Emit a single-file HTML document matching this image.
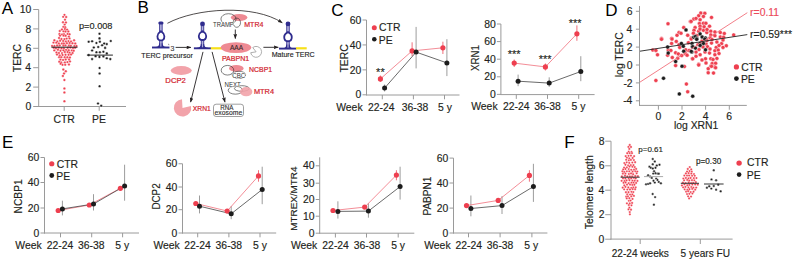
<!DOCTYPE html>
<html><head><meta charset="utf-8"><style>html,body{margin:0;padding:0;background:#fff;}body{width:793px;height:260px;overflow:hidden;}svg{display:block;}</style></head>
<body><svg width="793" height="260" viewBox="0 0 793 260" font-family='"Liberation Sans", sans-serif'>
<rect width="793" height="260" fill="#fff"/>
<text x="1.87" y="13.70" font-size="17" fill="#000"  >A</text>
<text x="137.41" y="13.30" font-size="17" fill="#000"  >B</text>
<text x="331.34" y="15.90" font-size="17" fill="#000"  >C</text>
<text x="605.31" y="15.90" font-size="17" fill="#000"  >D</text>
<text x="2.01" y="148.30" font-size="17" fill="#000"  >E</text>
<text x="564.21" y="148.10" font-size="17" fill="#000"  >F</text>
<line x1="38.70" y1="9.50" x2="38.70" y2="107.00" stroke="#9a9a9a" stroke-width="1" />
<line x1="33.20" y1="106.50" x2="38.70" y2="106.50" stroke="#9a9a9a" stroke-width="1" />
<text x="25.42" y="110.13" font-size="10.4" fill="#231f20" stroke="#231f20" stroke-width="0.15">0</text>
<line x1="33.20" y1="87.10" x2="38.70" y2="87.10" stroke="#9a9a9a" stroke-width="1" />
<text x="25.54" y="90.73" font-size="10.4" fill="#231f20" stroke="#231f20" stroke-width="0.15">2</text>
<line x1="33.20" y1="67.70" x2="38.70" y2="67.70" stroke="#9a9a9a" stroke-width="1" />
<text x="25.32" y="71.33" font-size="10.4" fill="#231f20" stroke="#231f20" stroke-width="0.15">4</text>
<line x1="33.20" y1="48.30" x2="38.70" y2="48.30" stroke="#9a9a9a" stroke-width="1" />
<text x="25.47" y="51.93" font-size="10.4" fill="#231f20" stroke="#231f20" stroke-width="0.15">6</text>
<line x1="33.20" y1="28.90" x2="38.70" y2="28.90" stroke="#9a9a9a" stroke-width="1" />
<text x="25.47" y="32.53" font-size="10.4" fill="#231f20" stroke="#231f20" stroke-width="0.15">8</text>
<line x1="33.20" y1="9.50" x2="38.70" y2="9.50" stroke="#9a9a9a" stroke-width="1" />
<text x="19.64" y="13.13" font-size="10.4" fill="#231f20" stroke="#231f20" stroke-width="0.15">10</text>
<line x1="38.20" y1="106.50" x2="126.00" y2="106.50" stroke="#9a9a9a" stroke-width="1" />
<line x1="64.20" y1="106.50" x2="64.20" y2="110.80" stroke="#9a9a9a" stroke-width="1" />
<line x1="99.20" y1="106.50" x2="99.20" y2="110.80" stroke="#9a9a9a" stroke-width="1" />
<text x="53.49" y="122.70" font-size="10.4" fill="#231f20" stroke="#231f20" stroke-width="0.15">CTR</text>
<text x="92.06" y="122.70" font-size="10.4" fill="#231f20" stroke="#231f20" stroke-width="0.15">PE</text>
<text transform="translate(21.20,72.00) rotate(-90) scale(0.920,1)" x="-0.25" y="0" font-size="11.31" fill="#231f20" stroke="#231f20" stroke-width="0.15">TERC</text>
<text x="79.01" y="28.50" font-size="9.2" fill="#231f20" stroke="#231f20" stroke-width="0.15">p=0.008</text>
<circle cx="64.45" cy="14.84" r="1.2" fill="#ee3f4f" stroke="#fff" stroke-width="0.3"/>
<circle cx="63.18" cy="16.83" r="1.2" fill="#ee3f4f" stroke="#fff" stroke-width="0.3"/>
<circle cx="66.18" cy="17.06" r="1.2" fill="#ee3f4f" stroke="#fff" stroke-width="0.3"/>
<circle cx="64.99" cy="19.66" r="1.2" fill="#ee3f4f" stroke="#fff" stroke-width="0.3"/>
<circle cx="63.00" cy="22.22" r="1.2" fill="#ee3f4f" stroke="#fff" stroke-width="0.3"/>
<circle cx="65.94" cy="22.49" r="1.2" fill="#ee3f4f" stroke="#fff" stroke-width="0.3"/>
<circle cx="64.69" cy="24.61" r="1.2" fill="#ee3f4f" stroke="#fff" stroke-width="0.3"/>
<circle cx="63.33" cy="26.86" r="1.2" fill="#ee3f4f" stroke="#fff" stroke-width="0.3"/>
<circle cx="65.21" cy="27.19" r="1.2" fill="#ee3f4f" stroke="#fff" stroke-width="0.3"/>
<circle cx="61.91" cy="29.55" r="1.2" fill="#ee3f4f" stroke="#fff" stroke-width="0.3"/>
<circle cx="64.91" cy="28.97" r="1.2" fill="#ee3f4f" stroke="#fff" stroke-width="0.3"/>
<circle cx="67.08" cy="29.62" r="1.2" fill="#ee3f4f" stroke="#fff" stroke-width="0.3"/>
<circle cx="59.79" cy="31.01" r="1.2" fill="#ee3f4f" stroke="#fff" stroke-width="0.3"/>
<circle cx="63.58" cy="31.37" r="1.2" fill="#ee3f4f" stroke="#fff" stroke-width="0.3"/>
<circle cx="65.54" cy="31.46" r="1.2" fill="#ee3f4f" stroke="#fff" stroke-width="0.3"/>
<circle cx="68.35" cy="31.55" r="1.2" fill="#ee3f4f" stroke="#fff" stroke-width="0.3"/>
<circle cx="59.39" cy="34.02" r="1.2" fill="#ee3f4f" stroke="#fff" stroke-width="0.3"/>
<circle cx="62.08" cy="34.39" r="1.2" fill="#ee3f4f" stroke="#fff" stroke-width="0.3"/>
<circle cx="64.00" cy="34.23" r="1.2" fill="#ee3f4f" stroke="#fff" stroke-width="0.3"/>
<circle cx="67.64" cy="33.88" r="1.2" fill="#ee3f4f" stroke="#fff" stroke-width="0.3"/>
<circle cx="69.55" cy="34.20" r="1.2" fill="#ee3f4f" stroke="#fff" stroke-width="0.3"/>
<circle cx="60.02" cy="35.63" r="1.2" fill="#ee3f4f" stroke="#fff" stroke-width="0.3"/>
<circle cx="63.61" cy="35.66" r="1.2" fill="#ee3f4f" stroke="#fff" stroke-width="0.3"/>
<circle cx="65.67" cy="35.73" r="1.2" fill="#ee3f4f" stroke="#fff" stroke-width="0.3"/>
<circle cx="68.85" cy="36.60" r="1.2" fill="#ee3f4f" stroke="#fff" stroke-width="0.3"/>
<circle cx="59.04" cy="37.95" r="1.2" fill="#ee3f4f" stroke="#fff" stroke-width="0.3"/>
<circle cx="61.45" cy="38.96" r="1.2" fill="#ee3f4f" stroke="#fff" stroke-width="0.3"/>
<circle cx="64.41" cy="39.10" r="1.2" fill="#ee3f4f" stroke="#fff" stroke-width="0.3"/>
<circle cx="66.64" cy="38.62" r="1.2" fill="#ee3f4f" stroke="#fff" stroke-width="0.3"/>
<circle cx="69.54" cy="38.39" r="1.2" fill="#ee3f4f" stroke="#fff" stroke-width="0.3"/>
<circle cx="54.36" cy="40.30" r="1.2" fill="#ee3f4f" stroke="#fff" stroke-width="0.3"/>
<circle cx="57.30" cy="41.40" r="1.2" fill="#ee3f4f" stroke="#fff" stroke-width="0.3"/>
<circle cx="60.13" cy="40.80" r="1.2" fill="#ee3f4f" stroke="#fff" stroke-width="0.3"/>
<circle cx="63.20" cy="40.96" r="1.2" fill="#ee3f4f" stroke="#fff" stroke-width="0.3"/>
<circle cx="65.92" cy="41.38" r="1.2" fill="#ee3f4f" stroke="#fff" stroke-width="0.3"/>
<circle cx="68.44" cy="41.11" r="1.2" fill="#ee3f4f" stroke="#fff" stroke-width="0.3"/>
<circle cx="71.04" cy="41.42" r="1.2" fill="#ee3f4f" stroke="#fff" stroke-width="0.3"/>
<circle cx="74.08" cy="40.26" r="1.2" fill="#ee3f4f" stroke="#fff" stroke-width="0.3"/>
<circle cx="53.50" cy="42.62" r="1.2" fill="#ee3f4f" stroke="#fff" stroke-width="0.3"/>
<circle cx="56.31" cy="42.67" r="1.2" fill="#ee3f4f" stroke="#fff" stroke-width="0.3"/>
<circle cx="58.86" cy="43.42" r="1.2" fill="#ee3f4f" stroke="#fff" stroke-width="0.3"/>
<circle cx="61.90" cy="43.49" r="1.2" fill="#ee3f4f" stroke="#fff" stroke-width="0.3"/>
<circle cx="63.87" cy="43.41" r="1.2" fill="#ee3f4f" stroke="#fff" stroke-width="0.3"/>
<circle cx="66.85" cy="43.15" r="1.2" fill="#ee3f4f" stroke="#fff" stroke-width="0.3"/>
<circle cx="69.68" cy="43.04" r="1.2" fill="#ee3f4f" stroke="#fff" stroke-width="0.3"/>
<circle cx="72.49" cy="43.31" r="1.2" fill="#ee3f4f" stroke="#fff" stroke-width="0.3"/>
<circle cx="75.25" cy="43.53" r="1.2" fill="#ee3f4f" stroke="#fff" stroke-width="0.3"/>
<circle cx="52.11" cy="45.83" r="1.2" fill="#ee3f4f" stroke="#fff" stroke-width="0.3"/>
<circle cx="54.44" cy="45.91" r="1.2" fill="#ee3f4f" stroke="#fff" stroke-width="0.3"/>
<circle cx="57.15" cy="45.47" r="1.2" fill="#ee3f4f" stroke="#fff" stroke-width="0.3"/>
<circle cx="59.80" cy="45.34" r="1.2" fill="#ee3f4f" stroke="#fff" stroke-width="0.3"/>
<circle cx="63.43" cy="45.48" r="1.2" fill="#ee3f4f" stroke="#fff" stroke-width="0.3"/>
<circle cx="65.38" cy="45.35" r="1.2" fill="#ee3f4f" stroke="#fff" stroke-width="0.3"/>
<circle cx="68.99" cy="45.49" r="1.2" fill="#ee3f4f" stroke="#fff" stroke-width="0.3"/>
<circle cx="70.82" cy="45.59" r="1.2" fill="#ee3f4f" stroke="#fff" stroke-width="0.3"/>
<circle cx="74.39" cy="45.96" r="1.2" fill="#ee3f4f" stroke="#fff" stroke-width="0.3"/>
<circle cx="76.51" cy="45.92" r="1.2" fill="#ee3f4f" stroke="#fff" stroke-width="0.3"/>
<circle cx="53.77" cy="47.71" r="1.2" fill="#ee3f4f" stroke="#fff" stroke-width="0.3"/>
<circle cx="55.90" cy="48.25" r="1.2" fill="#ee3f4f" stroke="#fff" stroke-width="0.3"/>
<circle cx="58.72" cy="47.80" r="1.2" fill="#ee3f4f" stroke="#fff" stroke-width="0.3"/>
<circle cx="61.54" cy="48.40" r="1.2" fill="#ee3f4f" stroke="#fff" stroke-width="0.3"/>
<circle cx="63.81" cy="48.43" r="1.2" fill="#ee3f4f" stroke="#fff" stroke-width="0.3"/>
<circle cx="67.73" cy="47.82" r="1.2" fill="#ee3f4f" stroke="#fff" stroke-width="0.3"/>
<circle cx="70.41" cy="47.57" r="1.2" fill="#ee3f4f" stroke="#fff" stroke-width="0.3"/>
<circle cx="73.05" cy="48.10" r="1.2" fill="#ee3f4f" stroke="#fff" stroke-width="0.3"/>
<circle cx="75.15" cy="47.71" r="1.2" fill="#ee3f4f" stroke="#fff" stroke-width="0.3"/>
<circle cx="54.26" cy="50.36" r="1.2" fill="#ee3f4f" stroke="#fff" stroke-width="0.3"/>
<circle cx="57.90" cy="49.70" r="1.2" fill="#ee3f4f" stroke="#fff" stroke-width="0.3"/>
<circle cx="60.51" cy="50.76" r="1.2" fill="#ee3f4f" stroke="#fff" stroke-width="0.3"/>
<circle cx="63.50" cy="50.34" r="1.2" fill="#ee3f4f" stroke="#fff" stroke-width="0.3"/>
<circle cx="66.07" cy="49.86" r="1.2" fill="#ee3f4f" stroke="#fff" stroke-width="0.3"/>
<circle cx="68.72" cy="50.28" r="1.2" fill="#ee3f4f" stroke="#fff" stroke-width="0.3"/>
<circle cx="71.80" cy="50.38" r="1.2" fill="#ee3f4f" stroke="#fff" stroke-width="0.3"/>
<circle cx="73.73" cy="50.68" r="1.2" fill="#ee3f4f" stroke="#fff" stroke-width="0.3"/>
<circle cx="56.49" cy="52.42" r="1.2" fill="#ee3f4f" stroke="#fff" stroke-width="0.3"/>
<circle cx="58.94" cy="52.98" r="1.2" fill="#ee3f4f" stroke="#fff" stroke-width="0.3"/>
<circle cx="62.00" cy="53.11" r="1.2" fill="#ee3f4f" stroke="#fff" stroke-width="0.3"/>
<circle cx="64.79" cy="52.01" r="1.2" fill="#ee3f4f" stroke="#fff" stroke-width="0.3"/>
<circle cx="67.59" cy="52.06" r="1.2" fill="#ee3f4f" stroke="#fff" stroke-width="0.3"/>
<circle cx="69.62" cy="52.63" r="1.2" fill="#ee3f4f" stroke="#fff" stroke-width="0.3"/>
<circle cx="72.62" cy="52.93" r="1.2" fill="#ee3f4f" stroke="#fff" stroke-width="0.3"/>
<circle cx="56.99" cy="54.50" r="1.2" fill="#ee3f4f" stroke="#fff" stroke-width="0.3"/>
<circle cx="59.76" cy="55.52" r="1.2" fill="#ee3f4f" stroke="#fff" stroke-width="0.3"/>
<circle cx="62.53" cy="54.95" r="1.2" fill="#ee3f4f" stroke="#fff" stroke-width="0.3"/>
<circle cx="65.55" cy="54.77" r="1.2" fill="#ee3f4f" stroke="#fff" stroke-width="0.3"/>
<circle cx="68.63" cy="54.78" r="1.2" fill="#ee3f4f" stroke="#fff" stroke-width="0.3"/>
<circle cx="71.07" cy="54.50" r="1.2" fill="#ee3f4f" stroke="#fff" stroke-width="0.3"/>
<circle cx="59.16" cy="57.16" r="1.2" fill="#ee3f4f" stroke="#fff" stroke-width="0.3"/>
<circle cx="61.26" cy="57.15" r="1.2" fill="#ee3f4f" stroke="#fff" stroke-width="0.3"/>
<circle cx="64.74" cy="57.16" r="1.2" fill="#ee3f4f" stroke="#fff" stroke-width="0.3"/>
<circle cx="67.30" cy="57.22" r="1.2" fill="#ee3f4f" stroke="#fff" stroke-width="0.3"/>
<circle cx="69.90" cy="57.54" r="1.2" fill="#ee3f4f" stroke="#fff" stroke-width="0.3"/>
<circle cx="60.51" cy="59.60" r="1.2" fill="#ee3f4f" stroke="#fff" stroke-width="0.3"/>
<circle cx="63.07" cy="59.88" r="1.2" fill="#ee3f4f" stroke="#fff" stroke-width="0.3"/>
<circle cx="65.68" cy="59.56" r="1.2" fill="#ee3f4f" stroke="#fff" stroke-width="0.3"/>
<circle cx="69.05" cy="59.50" r="1.2" fill="#ee3f4f" stroke="#fff" stroke-width="0.3"/>
<circle cx="59.25" cy="61.71" r="1.2" fill="#ee3f4f" stroke="#fff" stroke-width="0.3"/>
<circle cx="61.20" cy="62.38" r="1.2" fill="#ee3f4f" stroke="#fff" stroke-width="0.3"/>
<circle cx="64.86" cy="62.35" r="1.2" fill="#ee3f4f" stroke="#fff" stroke-width="0.3"/>
<circle cx="67.43" cy="62.08" r="1.2" fill="#ee3f4f" stroke="#fff" stroke-width="0.3"/>
<circle cx="70.01" cy="61.41" r="1.2" fill="#ee3f4f" stroke="#fff" stroke-width="0.3"/>
<circle cx="60.60" cy="63.80" r="1.2" fill="#ee3f4f" stroke="#fff" stroke-width="0.3"/>
<circle cx="62.54" cy="64.81" r="1.2" fill="#ee3f4f" stroke="#fff" stroke-width="0.3"/>
<circle cx="65.20" cy="64.76" r="1.2" fill="#ee3f4f" stroke="#fff" stroke-width="0.3"/>
<circle cx="68.94" cy="64.56" r="1.2" fill="#ee3f4f" stroke="#fff" stroke-width="0.3"/>
<circle cx="63.30" cy="69.60" r="1.25" fill="#ee3f4f" stroke="#fff" stroke-width="0.3"/>
<circle cx="65.80" cy="71.20" r="1.25" fill="#ee3f4f" stroke="#fff" stroke-width="0.3"/>
<circle cx="64.00" cy="73.60" r="1.25" fill="#ee3f4f" stroke="#fff" stroke-width="0.3"/>
<circle cx="62.90" cy="75.90" r="1.25" fill="#ee3f4f" stroke="#fff" stroke-width="0.3"/>
<circle cx="64.40" cy="80.10" r="1.25" fill="#ee3f4f" stroke="#fff" stroke-width="0.3"/>
<circle cx="64.40" cy="88.40" r="1.25" fill="#ee3f4f" stroke="#fff" stroke-width="0.3"/>
<circle cx="64.40" cy="92.40" r="1.25" fill="#ee3f4f" stroke="#fff" stroke-width="0.3"/>
<circle cx="64.40" cy="101.30" r="1.25" fill="#ee3f4f" stroke="#fff" stroke-width="0.3"/>
<line x1="51.40" y1="47.20" x2="77.50" y2="47.20" stroke="#222" stroke-width="1" />
<circle cx="99.50" cy="33.70" r="1.3" fill="#1c1c1c" stroke="#fff" stroke-width="0.4"/>
<circle cx="99.50" cy="38.40" r="1.3" fill="#1c1c1c" stroke="#fff" stroke-width="0.4"/>
<circle cx="88.70" cy="41.80" r="1.3" fill="#1c1c1c" stroke="#fff" stroke-width="0.4"/>
<circle cx="92.10" cy="41.30" r="1.3" fill="#1c1c1c" stroke="#fff" stroke-width="0.4"/>
<circle cx="96.40" cy="43.00" r="1.3" fill="#1c1c1c" stroke="#fff" stroke-width="0.4"/>
<circle cx="99.90" cy="41.80" r="1.3" fill="#1c1c1c" stroke="#fff" stroke-width="0.4"/>
<circle cx="104.20" cy="43.50" r="1.3" fill="#1c1c1c" stroke="#fff" stroke-width="0.4"/>
<circle cx="110.80" cy="41.00" r="1.3" fill="#1c1c1c" stroke="#fff" stroke-width="0.4"/>
<circle cx="106.80" cy="44.10" r="1.3" fill="#1c1c1c" stroke="#fff" stroke-width="0.4"/>
<circle cx="102.10" cy="45.30" r="1.3" fill="#1c1c1c" stroke="#fff" stroke-width="0.4"/>
<circle cx="93.80" cy="47.50" r="1.3" fill="#1c1c1c" stroke="#fff" stroke-width="0.4"/>
<circle cx="98.20" cy="47.00" r="1.3" fill="#1c1c1c" stroke="#fff" stroke-width="0.4"/>
<circle cx="105.10" cy="47.90" r="1.3" fill="#1c1c1c" stroke="#fff" stroke-width="0.4"/>
<circle cx="92.10" cy="50.50" r="1.3" fill="#1c1c1c" stroke="#fff" stroke-width="0.4"/>
<circle cx="96.40" cy="52.20" r="1.3" fill="#1c1c1c" stroke="#fff" stroke-width="0.4"/>
<circle cx="99.90" cy="52.20" r="1.3" fill="#1c1c1c" stroke="#fff" stroke-width="0.4"/>
<circle cx="103.40" cy="51.70" r="1.3" fill="#1c1c1c" stroke="#fff" stroke-width="0.4"/>
<circle cx="106.80" cy="53.40" r="1.3" fill="#1c1c1c" stroke="#fff" stroke-width="0.4"/>
<circle cx="88.70" cy="55.10" r="1.3" fill="#1c1c1c" stroke="#fff" stroke-width="0.4"/>
<circle cx="95.60" cy="56.20" r="1.3" fill="#1c1c1c" stroke="#fff" stroke-width="0.4"/>
<circle cx="99.40" cy="56.90" r="1.3" fill="#1c1c1c" stroke="#fff" stroke-width="0.4"/>
<circle cx="103.40" cy="56.50" r="1.3" fill="#1c1c1c" stroke="#fff" stroke-width="0.4"/>
<circle cx="92.10" cy="59.10" r="1.3" fill="#1c1c1c" stroke="#fff" stroke-width="0.4"/>
<circle cx="106.80" cy="58.30" r="1.3" fill="#1c1c1c" stroke="#fff" stroke-width="0.4"/>
<circle cx="110.30" cy="59.10" r="1.3" fill="#1c1c1c" stroke="#fff" stroke-width="0.4"/>
<circle cx="99.60" cy="68.00" r="1.3" fill="#1c1c1c" stroke="#fff" stroke-width="0.4"/>
<circle cx="99.60" cy="73.50" r="1.3" fill="#1c1c1c" stroke="#fff" stroke-width="0.4"/>
<circle cx="99.60" cy="86.20" r="1.3" fill="#1c1c1c" stroke="#fff" stroke-width="0.4"/>
<circle cx="98.00" cy="103.50" r="1.3" fill="#1c1c1c" stroke="#fff" stroke-width="0.4"/>
<circle cx="101.20" cy="105.80" r="1.3" fill="#1c1c1c" stroke="#fff" stroke-width="0.4"/>
<line x1="86.90" y1="55.10" x2="112.90" y2="55.10" stroke="#222" stroke-width="1" />
<defs><marker id="ah" viewBox="0 0 5 3.8" refX="4.7" refY="1.9" markerWidth="5" markerHeight="3.8" orient="auto" markerUnits="userSpaceOnUse"><path d="M0,0 L5,1.9 L0,3.8 L0.9,1.9 Z" fill="#231f20"/></marker></defs>
<path d="M167.4,23.3 C196,8 254,4 282.3,22.8" fill="none" stroke="#231f20" stroke-width="0.8" marker-end="url(#ah)"/>
<rect x="159.65" y="23.10" width="2.50" height="24.40" fill="#b4b2dc" stroke="#2f2c8e" stroke-width="0.85"/>
<path d="M159.25,43.30 Q159.25,47.00 155.45,47.00 L155.45,48.00 L166.35,48.00 L166.35,47.00 Q162.55,47.00 162.55,43.30 L161.65,43.30 L161.65,47.00 L160.15,47.00 L160.15,43.30 Z" fill="#2f2c8e"/>
<path d="M160.90,31.30 C162.50,32.50 164.35,32.85 164.35,36.15 C164.35,39.25 162.70,40.40 160.90,40.40 C159.10,40.40 157.45,39.25 157.45,36.15 C157.45,32.85 159.30,32.50 160.90,31.30 Z" fill="#fff" stroke="#2f2c8e" stroke-width="1.8"/>
<rect x="158.30" y="21.50" width="5.2" height="3.1" rx="1.5" fill="#2f2c8e"/>
<rect x="152.00" y="46.55" width="17.50" height="1.9" fill="#2f2c8e"/>
<rect x="201.25" y="23.90" width="2.50" height="24.40" fill="#b4b2dc" stroke="#2f2c8e" stroke-width="0.85"/>
<path d="M200.85,44.10 Q200.85,47.80 197.05,47.80 L197.05,48.80 L207.95,48.80 L207.95,47.80 Q204.15,47.80 204.15,44.10 L203.25,44.10 L203.25,47.80 L201.75,47.80 L201.75,44.10 Z" fill="#2f2c8e"/>
<path d="M202.50,31.30 C204.10,32.50 206.20,32.65 206.20,35.95 C206.20,39.05 204.30,40.00 202.50,40.00 C200.70,40.00 198.80,39.05 198.80,35.95 C198.80,32.65 200.90,32.50 202.50,31.30 Z" fill="#fff" stroke="#2f2c8e" stroke-width="1.8"/>
<circle cx="202.50" cy="23.90" r="2.4" fill="#2f2c8e" stroke="none" stroke-width="0"/>
<rect x="193.90" y="47.35" width="17.00" height="1.9" fill="#2f2c8e"/>
<rect x="286.75" y="23.90" width="2.50" height="24.70" fill="#b4b2dc" stroke="#2f2c8e" stroke-width="0.85"/>
<path d="M286.35,44.40 Q286.35,48.10 282.55,48.10 L282.55,49.10 L293.45,49.10 L293.45,48.10 Q289.65,48.10 289.65,44.40 L288.75,44.40 L288.75,48.10 L287.25,48.10 L287.25,44.40 Z" fill="#2f2c8e"/>
<path d="M288.00,32.05 C289.60,33.25 291.80,33.65 291.80,36.95 C291.80,40.05 289.80,41.25 288.00,41.25 C286.20,41.25 284.20,40.05 284.20,36.95 C284.20,33.65 286.40,33.25 288.00,32.05 Z" fill="#fff" stroke="#2f2c8e" stroke-width="1.8"/>
<circle cx="288.00" cy="23.90" r="2.4" fill="#2f2c8e" stroke="none" stroke-width="0"/>
<rect x="279.00" y="47.65" width="17.30" height="1.9" fill="#2f2c8e"/>
<rect x="210.9" y="47.2" width="11.5" height="2.2" fill="#f7e01a"/>
<rect x="296" y="47.2" width="10.7" height="2.2" fill="#f7e01a"/>
<text transform="translate(170.80,50.70) scale(0.884,1)" x="-0.30" y="0" font-size="7.88" fill="#444" stroke="#444" stroke-width="0.15">3</text>
<line x1="168.50" y1="43.80" x2="168.90" y2="45.20" stroke="#231f20" stroke-width="0.5" />
<line x1="175.60" y1="47.40" x2="191.00" y2="47.40" stroke="#231f20" stroke-width="0.9" marker-end="url(#ah)"/>
<line x1="263.40" y1="47.30" x2="278.30" y2="47.30" stroke="#231f20" stroke-width="0.9" marker-end="url(#ah)"/>
<text transform="translate(141.50,57.60) scale(0.890,1)" x="-0.18" y="0" font-size="8.02" fill="#262626" stroke="#262626" stroke-width="0.15">TERC precursor</text>
<text transform="translate(272.20,56.50) scale(0.986,1)" x="-0.59" y="0" font-size="7.16" fill="#262626" stroke="#262626" stroke-width="0.15">Mature TERC</text>
<ellipse cx="239.1" cy="17.45" rx="8.3" ry="3.5" fill="#ee8a93"/>
<ellipse cx="228.5" cy="19" rx="7.6" ry="5.3" fill="none" stroke="#2a2a2a" stroke-width="0.6"/>
<ellipse cx="236.8" cy="22.7" rx="3.7" ry="4.6" fill="none" stroke="#2a2a2a" stroke-width="0.6"/>
<text transform="translate(213.20,26.60) scale(0.927,1)" x="-0.14" y="0" font-size="6.40" fill="#333" stroke="#fff" stroke-width="1.2" paint-order="stroke">TRAMP</text>
<text transform="translate(244.80,27.20) scale(0.915,1)" x="-0.63" y="0" font-size="7.70" fill="#d21f30" stroke="#d21f30" stroke-width="0.22">MTR4</text>
<line x1="235.30" y1="29.50" x2="235.30" y2="38.60" stroke="#231f20" stroke-width="0.9" marker-end="url(#ah)"/>
<ellipse cx="236" cy="47.6" rx="15.3" ry="5.4" fill="#ee8a93"/>
<text transform="translate(230.00,50.40) scale(0.953,1)" x="-0.01" y="0" font-size="6.83" fill="#3a2a2c" stroke="#3a2a2c" stroke-width="0.15">AAA</text>
<text transform="translate(222.50,60.70) scale(0.955,1)" x="-0.61" y="0" font-size="7.41" fill="#d21f30" stroke="#d21f30" stroke-width="0.22">PABPN1</text>
<path d="M256.1,51.85 L252.74,47.56 A5.45,5.45 0 1 1 250.72,52.7 Z" fill="#fff" stroke="#9a9a9a" stroke-width="0.8"/>
<ellipse cx="236.3" cy="68.4" rx="7.3" ry="3.3" fill="#ee8a93"/>
<ellipse cx="227.5" cy="70.25" rx="6.3" ry="4.8" fill="none" stroke="#2a2a2a" stroke-width="0.6"/>
<ellipse cx="238.9" cy="74.85" rx="6.7" ry="3.6" fill="none" stroke="#2a2a2a" stroke-width="0.6"/>
<text transform="translate(232.60,78.30) scale(0.846,1)" x="-0.37" y="0" font-size="7.30" fill="#333" stroke="#fff" stroke-width="1.0" paint-order="stroke">CBC</text>
<text transform="translate(249.60,71.90) scale(0.949,1)" x="-0.60" y="0" font-size="7.30" fill="#d21f30" stroke="#d21f30" stroke-width="0.22">NCBP1</text>
<ellipse cx="235.4" cy="90.25" rx="7.2" ry="3.9" fill="none" stroke="#2a2a2a" stroke-width="0.6"/>
<ellipse cx="241.8" cy="88.5" rx="7.4" ry="2.8" fill="none" stroke="#2a2a2a" stroke-width="0.6"/>
<ellipse cx="246.2" cy="91.7" rx="6.2" ry="4.6" fill="#f2a3aa" fill-opacity="0.9"/>
<text transform="translate(225.00,87.10) scale(0.827,1)" x="-0.61" y="0" font-size="7.41" fill="#333" stroke="#fff" stroke-width="1.0" paint-order="stroke">NEXT</text>
<text transform="translate(254.50,93.80) scale(1.017,1)" x="-0.60" y="0" font-size="7.27" fill="#d21f30" stroke="#d21f30" stroke-width="0.22">MTR4</text>
<ellipse cx="181.25" cy="70.5" rx="10.5" ry="4.4" fill="#f2a3aa"/>
<text transform="translate(166.00,82.60) scale(1.074,1)" x="-0.59" y="0" font-size="7.16" fill="#d21f30" stroke="#d21f30" stroke-width="0.22">DCP2</text>
<path d="M182.5,107.9 L182.0,99.2 A8.7,8.7 0 1 0 191.0,106.0 Z" fill="#f2a3aa"/>
<text transform="translate(193.00,111.10) scale(0.922,1)" x="-0.16" y="0" font-size="7.27" fill="#d21f30" stroke="#d21f30" stroke-width="0.22">XRN1</text>
<line x1="203.00" y1="51.90" x2="190.60" y2="102.20" stroke="#231f20" stroke-width="0.9" marker-end="url(#ah)"/>
<line x1="212.10" y1="51.90" x2="225.00" y2="102.20" stroke="#231f20" stroke-width="0.9" marker-end="url(#ah)"/>
<rect x="213.5" y="104.2" width="30" height="12.3" rx="2.6" fill="#fff" stroke="#777" stroke-width="0.7"/>
<text transform="translate(220.80,109.80) scale(0.898,1)" x="-0.57" y="0" font-size="6.98" fill="#333" stroke="#333" stroke-width="0.15">RNA</text>
<text transform="translate(214.80,114.80) scale(0.918,1)" x="-0.32" y="0" font-size="7.43" fill="#333" stroke="#333" stroke-width="0.15">exosome</text>
<line x1="366.50" y1="20.00" x2="366.50" y2="95.30" stroke="#9a9a9a" stroke-width="1" />
<line x1="362.50" y1="94.80" x2="366.50" y2="94.80" stroke="#9a9a9a" stroke-width="1" />
<text x="355.62" y="98.43" font-size="10.4" fill="#231f20" stroke="#231f20" stroke-width="0.15">0</text>
<line x1="362.50" y1="69.87" x2="366.50" y2="69.87" stroke="#9a9a9a" stroke-width="1" />
<text x="349.84" y="73.50" font-size="10.4" fill="#231f20" stroke="#231f20" stroke-width="0.15">20</text>
<line x1="362.50" y1="44.93" x2="366.50" y2="44.93" stroke="#9a9a9a" stroke-width="1" />
<text x="349.84" y="48.56" font-size="10.4" fill="#231f20" stroke="#231f20" stroke-width="0.15">40</text>
<line x1="362.50" y1="20.00" x2="366.50" y2="20.00" stroke="#9a9a9a" stroke-width="1" />
<text x="349.84" y="23.63" font-size="10.4" fill="#231f20" stroke="#231f20" stroke-width="0.15">60</text>
<line x1="366.00" y1="95.00" x2="459.50" y2="95.00" stroke="#9a9a9a" stroke-width="1" />
<line x1="382.30" y1="95.00" x2="382.30" y2="99.30" stroke="#9a9a9a" stroke-width="1" />
<line x1="413.40" y1="95.00" x2="413.40" y2="99.30" stroke="#9a9a9a" stroke-width="1" />
<line x1="444.50" y1="95.00" x2="444.50" y2="99.30" stroke="#9a9a9a" stroke-width="1" />
<text x="336.23" y="111.20" font-size="10.4" fill="#231f20" stroke="#231f20" stroke-width="0.15">Week</text>
<text x="367.94" y="111.20" font-size="10.4" fill="#231f20" stroke="#231f20" stroke-width="0.15">22-24</text>
<text x="401.68" y="111.20" font-size="10.4" fill="#231f20" stroke="#231f20" stroke-width="0.15">36-38</text>
<text x="438.02" y="111.20" font-size="10.4" fill="#231f20" stroke="#231f20" stroke-width="0.15">5 y</text>
<text transform="translate(347.50,72.30) rotate(-90) scale(0.999,1)" x="-0.23" y="0" font-size="10.45" fill="#231f20" stroke="#231f20" stroke-width="0.15">TERC</text>
<circle cx="374.30" cy="27.80" r="2.5" fill="#ee3f4f" stroke="none" stroke-width="0"/>
<circle cx="374.30" cy="39.30" r="2.3000000000000003" fill="#1c1c1c" stroke="none" stroke-width="0"/>
<text x="379.07" y="31.40" font-size="10.4" fill="#231f20" stroke="#231f20" stroke-width="0.15">CTR</text>
<text x="378.75" y="43.60" font-size="10.4" fill="#231f20" stroke="#231f20" stroke-width="0.15">PE</text>
<line x1="412.10" y1="42.30" x2="412.10" y2="56.00" stroke="#f0707c" stroke-width="1" />
<line x1="442.90" y1="41.70" x2="442.90" y2="54.00" stroke="#f0707c" stroke-width="1" />
<line x1="380.40" y1="75.50" x2="380.40" y2="82.00" stroke="#f0707c" stroke-width="1" />
<line x1="384.60" y1="84.50" x2="384.60" y2="91.50" stroke="#9c9c9c" stroke-width="1" />
<line x1="416.10" y1="26.90" x2="416.10" y2="68.40" stroke="#9c9c9c" stroke-width="1" />
<line x1="446.90" y1="39.20" x2="446.90" y2="76.10" stroke="#9c9c9c" stroke-width="1" />
<polyline points="380.4,78.9 412.1,50.9 442.9,47.8" fill="none" stroke="#f0707c" stroke-width="0.8"/>
<polyline points="384.6,88.1 416.1,52.1 446.9,62.9" fill="none" stroke="#444" stroke-width="0.8"/>
<circle cx="380.40" cy="78.90" r="2.6" fill="#ee3f4f" stroke="none" stroke-width="0"/>
<circle cx="412.10" cy="50.90" r="2.6" fill="#ee3f4f" stroke="none" stroke-width="0"/>
<circle cx="442.90" cy="47.80" r="2.6" fill="#ee3f4f" stroke="none" stroke-width="0"/>
<circle cx="384.60" cy="88.10" r="2.5" fill="#1c1c1c" stroke="none" stroke-width="0"/>
<circle cx="416.10" cy="52.10" r="2.5" fill="#1c1c1c" stroke="none" stroke-width="0"/>
<circle cx="446.90" cy="62.90" r="2.5" fill="#1c1c1c" stroke="none" stroke-width="0"/>
<text x="376.12" y="76.00" font-size="11" fill="#231f20" stroke="#231f20" stroke-width="0.15">**</text>
<line x1="500.90" y1="24.00" x2="500.90" y2="94.90" stroke="#9a9a9a" stroke-width="1" />
<line x1="496.90" y1="94.40" x2="500.90" y2="94.40" stroke="#9a9a9a" stroke-width="1" />
<text x="490.02" y="98.03" font-size="10.4" fill="#231f20" stroke="#231f20" stroke-width="0.15">0</text>
<line x1="496.90" y1="76.80" x2="500.90" y2="76.80" stroke="#9a9a9a" stroke-width="1" />
<text x="484.24" y="80.43" font-size="10.4" fill="#231f20" stroke="#231f20" stroke-width="0.15">20</text>
<line x1="496.90" y1="59.20" x2="500.90" y2="59.20" stroke="#9a9a9a" stroke-width="1" />
<text x="484.24" y="62.83" font-size="10.4" fill="#231f20" stroke="#231f20" stroke-width="0.15">40</text>
<line x1="496.90" y1="41.60" x2="500.90" y2="41.60" stroke="#9a9a9a" stroke-width="1" />
<text x="484.24" y="45.23" font-size="10.4" fill="#231f20" stroke="#231f20" stroke-width="0.15">60</text>
<line x1="496.90" y1="24.00" x2="500.90" y2="24.00" stroke="#9a9a9a" stroke-width="1" />
<text x="484.24" y="27.63" font-size="10.4" fill="#231f20" stroke="#231f20" stroke-width="0.15">80</text>
<line x1="500.40" y1="94.60" x2="594.60" y2="94.60" stroke="#9a9a9a" stroke-width="1" />
<line x1="516.30" y1="94.60" x2="516.30" y2="98.90" stroke="#9a9a9a" stroke-width="1" />
<line x1="547.50" y1="94.60" x2="547.50" y2="98.90" stroke="#9a9a9a" stroke-width="1" />
<line x1="578.70" y1="94.60" x2="578.70" y2="98.90" stroke="#9a9a9a" stroke-width="1" />
<text x="471.23" y="110.20" font-size="10.4" fill="#231f20" stroke="#231f20" stroke-width="0.15">Week</text>
<text x="502.89" y="110.20" font-size="10.4" fill="#231f20" stroke="#231f20" stroke-width="0.15">22-24</text>
<text x="534.23" y="110.20" font-size="10.4" fill="#231f20" stroke="#231f20" stroke-width="0.15">36-38</text>
<text x="571.62" y="110.20" font-size="10.4" fill="#231f20" stroke="#231f20" stroke-width="0.15">5 y</text>
<text transform="translate(478.70,70.80) rotate(-90) scale(0.902,1)" x="-0.24" y="0" font-size="10.76" fill="#231f20" stroke="#231f20" stroke-width="0.15">XRN1</text>
<line x1="514.20" y1="59.50" x2="514.20" y2="67.00" stroke="#f0707c" stroke-width="1" />
<line x1="545.40" y1="63.50" x2="545.40" y2="70.50" stroke="#f0707c" stroke-width="1" />
<line x1="576.90" y1="25.40" x2="576.90" y2="40.80" stroke="#f0707c" stroke-width="1" />
<line x1="518.10" y1="74.60" x2="518.10" y2="86.20" stroke="#9c9c9c" stroke-width="1" />
<line x1="549.20" y1="77.30" x2="549.20" y2="86.90" stroke="#9c9c9c" stroke-width="1" />
<line x1="580.80" y1="56.20" x2="580.80" y2="81.20" stroke="#9c9c9c" stroke-width="1" />
<polyline points="514.2,63.1 545.4,66.9 576.9,33.8" fill="none" stroke="#f0707c" stroke-width="0.8"/>
<polyline points="518.1,81.2 549.2,83.1 580.8,71.5" fill="none" stroke="#444" stroke-width="0.8"/>
<circle cx="514.20" cy="63.10" r="2.6" fill="#ee3f4f" stroke="none" stroke-width="0"/>
<circle cx="545.40" cy="66.90" r="2.6" fill="#ee3f4f" stroke="none" stroke-width="0"/>
<circle cx="576.90" cy="33.80" r="2.6" fill="#ee3f4f" stroke="none" stroke-width="0"/>
<circle cx="518.10" cy="81.20" r="2.5" fill="#1c1c1c" stroke="none" stroke-width="0"/>
<circle cx="549.20" cy="83.10" r="2.5" fill="#1c1c1c" stroke="none" stroke-width="0"/>
<circle cx="580.80" cy="71.50" r="2.5" fill="#1c1c1c" stroke="none" stroke-width="0"/>
<text x="507.82" y="58.20" font-size="11" fill="#231f20" stroke="#231f20" stroke-width="0.15">***</text>
<text x="538.82" y="62.90" font-size="11" fill="#231f20" stroke="#231f20" stroke-width="0.15">***</text>
<text x="568.82" y="27.00" font-size="11" fill="#231f20" stroke="#231f20" stroke-width="0.15">***</text>
<line x1="639.50" y1="6.00" x2="639.50" y2="105.90" stroke="#9a9a9a" stroke-width="1" />
<line x1="635.90" y1="100.80" x2="639.50" y2="100.80" stroke="#9a9a9a" stroke-width="1" />
<text x="623.16" y="104.43" font-size="10.4" fill="#231f20" stroke="#231f20" stroke-width="0.15">-4</text>
<line x1="635.90" y1="82.90" x2="639.50" y2="82.90" stroke="#9a9a9a" stroke-width="1" />
<text x="623.38" y="86.53" font-size="10.4" fill="#231f20" stroke="#231f20" stroke-width="0.15">-2</text>
<line x1="635.90" y1="65.00" x2="639.50" y2="65.00" stroke="#9a9a9a" stroke-width="1" />
<text x="626.72" y="68.63" font-size="10.4" fill="#231f20" stroke="#231f20" stroke-width="0.15">0</text>
<line x1="635.90" y1="47.10" x2="639.50" y2="47.10" stroke="#9a9a9a" stroke-width="1" />
<text x="626.84" y="50.73" font-size="10.4" fill="#231f20" stroke="#231f20" stroke-width="0.15">2</text>
<line x1="635.90" y1="29.20" x2="639.50" y2="29.20" stroke="#9a9a9a" stroke-width="1" />
<text x="626.62" y="32.83" font-size="10.4" fill="#231f20" stroke="#231f20" stroke-width="0.15">4</text>
<line x1="635.90" y1="11.30" x2="639.50" y2="11.30" stroke="#9a9a9a" stroke-width="1" />
<text x="626.77" y="14.93" font-size="10.4" fill="#231f20" stroke="#231f20" stroke-width="0.15">6</text>
<line x1="639.00" y1="105.40" x2="746.80" y2="105.40" stroke="#9a9a9a" stroke-width="1" />
<line x1="658.40" y1="105.40" x2="658.40" y2="109.70" stroke="#9a9a9a" stroke-width="1" />
<line x1="682.00" y1="105.40" x2="682.00" y2="109.70" stroke="#9a9a9a" stroke-width="1" />
<line x1="705.60" y1="105.40" x2="705.60" y2="109.70" stroke="#9a9a9a" stroke-width="1" />
<line x1="729.30" y1="105.40" x2="729.30" y2="109.70" stroke="#9a9a9a" stroke-width="1" />
<text x="655.51" y="119.60" font-size="10.4" fill="#231f20" stroke="#231f20" stroke-width="0.15">0</text>
<text x="679.11" y="119.60" font-size="10.4" fill="#231f20" stroke="#231f20" stroke-width="0.15">2</text>
<text x="702.74" y="119.60" font-size="10.4" fill="#231f20" stroke="#231f20" stroke-width="0.15">4</text>
<text x="726.37" y="119.60" font-size="10.4" fill="#231f20" stroke="#231f20" stroke-width="0.15">6</text>
<text x="673.90" y="129.30" font-size="10.4" fill="#231f20" stroke="#231f20" stroke-width="0.15">log XRN1</text>
<text transform="translate(622.80,77.20) rotate(-90)" font-size="10.4" fill="#231f20" stroke="#231f20" stroke-width="0.15">log TERC</text>
<circle cx="668.00" cy="23.80" r="2.0" fill="#ee3f4f" stroke="#fff" stroke-width="0.4"/>
<circle cx="690.40" cy="21.40" r="2.0" fill="#ee3f4f" stroke="#fff" stroke-width="0.4"/>
<circle cx="683.70" cy="27.60" r="2.0" fill="#ee3f4f" stroke="#fff" stroke-width="0.4"/>
<circle cx="679.00" cy="32.60" r="2.0" fill="#ee3f4f" stroke="#fff" stroke-width="0.4"/>
<circle cx="681.00" cy="33.20" r="2.0" fill="#ee3f4f" stroke="#fff" stroke-width="0.4"/>
<circle cx="677.00" cy="35.30" r="2.0" fill="#ee3f4f" stroke="#fff" stroke-width="0.4"/>
<circle cx="687.70" cy="35.30" r="2.0" fill="#ee3f4f" stroke="#fff" stroke-width="0.4"/>
<circle cx="661.50" cy="38.60" r="2.0" fill="#ee3f4f" stroke="#fff" stroke-width="0.4"/>
<circle cx="671.60" cy="38.40" r="2.0" fill="#ee3f4f" stroke="#fff" stroke-width="0.4"/>
<circle cx="693.80" cy="19.10" r="2.0" fill="#ee3f4f" stroke="#fff" stroke-width="0.4"/>
<circle cx="700.80" cy="13.10" r="2.0" fill="#ee3f4f" stroke="#fff" stroke-width="0.4"/>
<circle cx="704.80" cy="13.30" r="2.0" fill="#ee3f4f" stroke="#fff" stroke-width="0.4"/>
<circle cx="698.70" cy="15.80" r="2.0" fill="#ee3f4f" stroke="#fff" stroke-width="0.4"/>
<circle cx="703.40" cy="16.40" r="2.0" fill="#ee3f4f" stroke="#fff" stroke-width="0.4"/>
<circle cx="711.50" cy="17.40" r="2.0" fill="#ee3f4f" stroke="#fff" stroke-width="0.4"/>
<circle cx="696.00" cy="18.40" r="2.0" fill="#ee3f4f" stroke="#fff" stroke-width="0.4"/>
<circle cx="700.10" cy="19.80" r="2.0" fill="#ee3f4f" stroke="#fff" stroke-width="0.4"/>
<circle cx="691.10" cy="21.40" r="2.0" fill="#ee3f4f" stroke="#fff" stroke-width="0.4"/>
<circle cx="699.40" cy="23.60" r="2.0" fill="#ee3f4f" stroke="#fff" stroke-width="0.4"/>
<circle cx="703.40" cy="23.20" r="2.0" fill="#ee3f4f" stroke="#fff" stroke-width="0.4"/>
<circle cx="705.90" cy="23.20" r="2.0" fill="#ee3f4f" stroke="#fff" stroke-width="0.4"/>
<circle cx="700.10" cy="26.20" r="2.0" fill="#ee3f4f" stroke="#fff" stroke-width="0.4"/>
<circle cx="704.10" cy="26.80" r="2.0" fill="#ee3f4f" stroke="#fff" stroke-width="0.4"/>
<circle cx="709.50" cy="26.20" r="2.0" fill="#ee3f4f" stroke="#fff" stroke-width="0.4"/>
<circle cx="695.10" cy="27.60" r="2.0" fill="#ee3f4f" stroke="#fff" stroke-width="0.4"/>
<circle cx="694.00" cy="30.30" r="2.0" fill="#ee3f4f" stroke="#fff" stroke-width="0.4"/>
<circle cx="698.70" cy="31.20" r="2.0" fill="#ee3f4f" stroke="#fff" stroke-width="0.4"/>
<circle cx="703.40" cy="30.30" r="2.0" fill="#ee3f4f" stroke="#fff" stroke-width="0.4"/>
<circle cx="706.80" cy="32.60" r="2.0" fill="#ee3f4f" stroke="#fff" stroke-width="0.4"/>
<circle cx="710.80" cy="31.20" r="2.0" fill="#ee3f4f" stroke="#fff" stroke-width="0.4"/>
<circle cx="714.90" cy="31.90" r="2.0" fill="#ee3f4f" stroke="#fff" stroke-width="0.4"/>
<circle cx="720.30" cy="32.60" r="2.0" fill="#ee3f4f" stroke="#fff" stroke-width="0.4"/>
<circle cx="724.30" cy="33.50" r="2.0" fill="#ee3f4f" stroke="#fff" stroke-width="0.4"/>
<circle cx="733.70" cy="34.90" r="2.0" fill="#ee3f4f" stroke="#fff" stroke-width="0.4"/>
<circle cx="693.40" cy="33.20" r="2.0" fill="#ee3f4f" stroke="#fff" stroke-width="0.4"/>
<circle cx="710.80" cy="34.90" r="2.0" fill="#ee3f4f" stroke="#fff" stroke-width="0.4"/>
<circle cx="714.90" cy="35.70" r="2.0" fill="#ee3f4f" stroke="#fff" stroke-width="0.4"/>
<circle cx="691.30" cy="38.00" r="2.0" fill="#ee3f4f" stroke="#fff" stroke-width="0.4"/>
<circle cx="710.20" cy="38.00" r="2.0" fill="#ee3f4f" stroke="#fff" stroke-width="0.4"/>
<circle cx="720.30" cy="37.00" r="2.0" fill="#ee3f4f" stroke="#fff" stroke-width="0.4"/>
<circle cx="723.60" cy="37.30" r="2.0" fill="#ee3f4f" stroke="#fff" stroke-width="0.4"/>
<circle cx="661.50" cy="39.30" r="2.0" fill="#ee3f4f" stroke="#fff" stroke-width="0.4"/>
<circle cx="672.00" cy="39.10" r="2.0" fill="#ee3f4f" stroke="#fff" stroke-width="0.4"/>
<circle cx="676.30" cy="41.40" r="2.0" fill="#ee3f4f" stroke="#fff" stroke-width="0.4"/>
<circle cx="671.60" cy="43.40" r="2.0" fill="#ee3f4f" stroke="#fff" stroke-width="0.4"/>
<circle cx="679.00" cy="44.70" r="2.0" fill="#ee3f4f" stroke="#fff" stroke-width="0.4"/>
<circle cx="679.70" cy="47.40" r="2.0" fill="#ee3f4f" stroke="#fff" stroke-width="0.4"/>
<circle cx="688.40" cy="42.70" r="2.0" fill="#ee3f4f" stroke="#fff" stroke-width="0.4"/>
<circle cx="691.10" cy="39.10" r="2.0" fill="#ee3f4f" stroke="#fff" stroke-width="0.4"/>
<circle cx="652.80" cy="50.10" r="2.0" fill="#ee3f4f" stroke="#fff" stroke-width="0.4"/>
<circle cx="655.90" cy="50.40" r="2.0" fill="#ee3f4f" stroke="#fff" stroke-width="0.4"/>
<circle cx="657.50" cy="54.80" r="2.0" fill="#ee3f4f" stroke="#fff" stroke-width="0.4"/>
<circle cx="668.20" cy="50.10" r="2.0" fill="#ee3f4f" stroke="#fff" stroke-width="0.4"/>
<circle cx="670.90" cy="50.40" r="2.0" fill="#ee3f4f" stroke="#fff" stroke-width="0.4"/>
<circle cx="667.60" cy="55.20" r="2.0" fill="#ee3f4f" stroke="#fff" stroke-width="0.4"/>
<circle cx="675.60" cy="52.80" r="2.0" fill="#ee3f4f" stroke="#fff" stroke-width="0.4"/>
<circle cx="678.30" cy="53.90" r="2.0" fill="#ee3f4f" stroke="#fff" stroke-width="0.4"/>
<circle cx="681.70" cy="55.50" r="2.0" fill="#ee3f4f" stroke="#fff" stroke-width="0.4"/>
<circle cx="685.70" cy="53.90" r="2.0" fill="#ee3f4f" stroke="#fff" stroke-width="0.4"/>
<circle cx="687.10" cy="55.20" r="2.0" fill="#ee3f4f" stroke="#fff" stroke-width="0.4"/>
<circle cx="685.70" cy="49.80" r="2.0" fill="#ee3f4f" stroke="#fff" stroke-width="0.4"/>
<circle cx="689.10" cy="50.40" r="2.0" fill="#ee3f4f" stroke="#fff" stroke-width="0.4"/>
<circle cx="672.30" cy="57.50" r="2.0" fill="#ee3f4f" stroke="#fff" stroke-width="0.4"/>
<circle cx="677.70" cy="58.20" r="2.0" fill="#ee3f4f" stroke="#fff" stroke-width="0.4"/>
<circle cx="692.40" cy="58.80" r="2.0" fill="#ee3f4f" stroke="#fff" stroke-width="0.4"/>
<circle cx="675.60" cy="65.60" r="2.0" fill="#ee3f4f" stroke="#fff" stroke-width="0.4"/>
<circle cx="684.40" cy="66.50" r="2.0" fill="#ee3f4f" stroke="#fff" stroke-width="0.4"/>
<circle cx="711.50" cy="43.10" r="2.0" fill="#ee3f4f" stroke="#fff" stroke-width="0.4"/>
<circle cx="716.90" cy="42.00" r="2.0" fill="#ee3f4f" stroke="#fff" stroke-width="0.4"/>
<circle cx="721.60" cy="43.60" r="2.0" fill="#ee3f4f" stroke="#fff" stroke-width="0.4"/>
<circle cx="723.00" cy="40.00" r="2.0" fill="#ee3f4f" stroke="#fff" stroke-width="0.4"/>
<circle cx="726.30" cy="45.80" r="2.0" fill="#ee3f4f" stroke="#fff" stroke-width="0.4"/>
<circle cx="723.00" cy="47.40" r="2.0" fill="#ee3f4f" stroke="#fff" stroke-width="0.4"/>
<circle cx="716.20" cy="47.40" r="2.0" fill="#ee3f4f" stroke="#fff" stroke-width="0.4"/>
<circle cx="714.90" cy="50.80" r="2.0" fill="#ee3f4f" stroke="#fff" stroke-width="0.4"/>
<circle cx="718.20" cy="50.10" r="2.0" fill="#ee3f4f" stroke="#fff" stroke-width="0.4"/>
<circle cx="706.10" cy="44.00" r="2.0" fill="#ee3f4f" stroke="#fff" stroke-width="0.4"/>
<circle cx="707.50" cy="46.70" r="2.0" fill="#ee3f4f" stroke="#fff" stroke-width="0.4"/>
<circle cx="696.00" cy="52.10" r="2.0" fill="#ee3f4f" stroke="#fff" stroke-width="0.4"/>
<circle cx="709.50" cy="53.10" r="2.0" fill="#ee3f4f" stroke="#fff" stroke-width="0.4"/>
<circle cx="700.10" cy="54.80" r="2.0" fill="#ee3f4f" stroke="#fff" stroke-width="0.4"/>
<circle cx="696.00" cy="56.20" r="2.0" fill="#ee3f4f" stroke="#fff" stroke-width="0.4"/>
<circle cx="714.90" cy="54.80" r="2.0" fill="#ee3f4f" stroke="#fff" stroke-width="0.4"/>
<circle cx="692.70" cy="58.80" r="2.0" fill="#ee3f4f" stroke="#fff" stroke-width="0.4"/>
<circle cx="705.50" cy="58.80" r="2.0" fill="#ee3f4f" stroke="#fff" stroke-width="0.4"/>
<circle cx="710.80" cy="58.80" r="2.0" fill="#ee3f4f" stroke="#fff" stroke-width="0.4"/>
<circle cx="716.90" cy="58.40" r="2.0" fill="#ee3f4f" stroke="#fff" stroke-width="0.4"/>
<circle cx="712.20" cy="63.60" r="2.0" fill="#ee3f4f" stroke="#fff" stroke-width="0.4"/>
<circle cx="715.60" cy="63.30" r="2.0" fill="#ee3f4f" stroke="#fff" stroke-width="0.4"/>
<circle cx="698.70" cy="64.20" r="2.0" fill="#ee3f4f" stroke="#fff" stroke-width="0.4"/>
<circle cx="710.80" cy="66.20" r="2.0" fill="#ee3f4f" stroke="#fff" stroke-width="0.4"/>
<circle cx="714.90" cy="66.90" r="2.0" fill="#ee3f4f" stroke="#fff" stroke-width="0.4"/>
<circle cx="708.20" cy="68.70" r="2.0" fill="#ee3f4f" stroke="#fff" stroke-width="0.4"/>
<circle cx="711.50" cy="66.30" r="2.0" fill="#ee3f4f" stroke="#fff" stroke-width="0.4"/>
<circle cx="715.60" cy="67.70" r="2.0" fill="#ee3f4f" stroke="#fff" stroke-width="0.4"/>
<circle cx="708.20" cy="72.80" r="2.0" fill="#ee3f4f" stroke="#fff" stroke-width="0.4"/>
<circle cx="713.50" cy="73.10" r="2.0" fill="#ee3f4f" stroke="#fff" stroke-width="0.4"/>
<circle cx="698.70" cy="65.00" r="2.0" fill="#ee3f4f" stroke="#fff" stroke-width="0.4"/>
<circle cx="655.90" cy="80.50" r="2.0" fill="#ee3f4f" stroke="#fff" stroke-width="0.4"/>
<circle cx="686.40" cy="84.10" r="2.0" fill="#ee3f4f" stroke="#fff" stroke-width="0.4"/>
<circle cx="687.70" cy="91.80" r="2.0" fill="#ee3f4f" stroke="#fff" stroke-width="0.4"/>
<circle cx="707.00" cy="40.50" r="2.0" fill="#ee3f4f" stroke="#fff" stroke-width="0.4"/>
<circle cx="712.00" cy="39.50" r="2.0" fill="#ee3f4f" stroke="#fff" stroke-width="0.4"/>
<circle cx="702.00" cy="41.00" r="2.0" fill="#ee3f4f" stroke="#fff" stroke-width="0.4"/>
<circle cx="698.00" cy="44.50" r="2.0" fill="#ee3f4f" stroke="#fff" stroke-width="0.4"/>
<circle cx="703.00" cy="47.00" r="2.0" fill="#ee3f4f" stroke="#fff" stroke-width="0.4"/>
<circle cx="710.00" cy="49.00" r="2.0" fill="#ee3f4f" stroke="#fff" stroke-width="0.4"/>
<circle cx="699.00" cy="49.50" r="2.0" fill="#ee3f4f" stroke="#fff" stroke-width="0.4"/>
<circle cx="705.00" cy="52.00" r="2.0" fill="#ee3f4f" stroke="#fff" stroke-width="0.4"/>
<circle cx="719.00" cy="53.50" r="2.0" fill="#ee3f4f" stroke="#fff" stroke-width="0.4"/>
<circle cx="702.00" cy="60.00" r="2.0" fill="#ee3f4f" stroke="#fff" stroke-width="0.4"/>
<circle cx="706.00" cy="63.00" r="2.0" fill="#ee3f4f" stroke="#fff" stroke-width="0.4"/>
<circle cx="713.00" cy="59.50" r="2.0" fill="#ee3f4f" stroke="#fff" stroke-width="0.4"/>
<circle cx="719.00" cy="45.50" r="2.0" fill="#ee3f4f" stroke="#fff" stroke-width="0.4"/>
<circle cx="700.00" cy="29.00" r="2.0" fill="#ee3f4f" stroke="#fff" stroke-width="0.4"/>
<circle cx="707.00" cy="29.50" r="2.0" fill="#ee3f4f" stroke="#fff" stroke-width="0.4"/>
<circle cx="697.00" cy="35.50" r="2.0" fill="#ee3f4f" stroke="#fff" stroke-width="0.4"/>
<circle cx="686.00" cy="29.90" r="2.0" fill="#1c1c1c" stroke="#fff" stroke-width="0.4"/>
<circle cx="693.80" cy="37.30" r="2.0" fill="#1c1c1c" stroke="#fff" stroke-width="0.4"/>
<circle cx="700.10" cy="33.90" r="2.0" fill="#1c1c1c" stroke="#fff" stroke-width="0.4"/>
<circle cx="695.40" cy="36.60" r="2.0" fill="#1c1c1c" stroke="#fff" stroke-width="0.4"/>
<circle cx="702.10" cy="37.00" r="2.0" fill="#1c1c1c" stroke="#fff" stroke-width="0.4"/>
<circle cx="705.50" cy="38.00" r="2.0" fill="#1c1c1c" stroke="#fff" stroke-width="0.4"/>
<circle cx="696.70" cy="38.60" r="2.0" fill="#1c1c1c" stroke="#fff" stroke-width="0.4"/>
<circle cx="681.40" cy="43.40" r="2.0" fill="#1c1c1c" stroke="#fff" stroke-width="0.4"/>
<circle cx="683.30" cy="46.30" r="2.0" fill="#1c1c1c" stroke="#fff" stroke-width="0.4"/>
<circle cx="667.60" cy="47.10" r="2.0" fill="#1c1c1c" stroke="#fff" stroke-width="0.4"/>
<circle cx="668.20" cy="53.10" r="2.0" fill="#1c1c1c" stroke="#fff" stroke-width="0.4"/>
<circle cx="683.70" cy="51.20" r="2.0" fill="#1c1c1c" stroke="#fff" stroke-width="0.4"/>
<circle cx="692.40" cy="46.70" r="2.0" fill="#1c1c1c" stroke="#fff" stroke-width="0.4"/>
<circle cx="691.80" cy="52.10" r="2.0" fill="#1c1c1c" stroke="#fff" stroke-width="0.4"/>
<circle cx="675.60" cy="61.50" r="2.0" fill="#1c1c1c" stroke="#fff" stroke-width="0.4"/>
<circle cx="682.00" cy="66.20" r="2.0" fill="#1c1c1c" stroke="#fff" stroke-width="0.4"/>
<circle cx="696.70" cy="39.30" r="2.0" fill="#1c1c1c" stroke="#fff" stroke-width="0.4"/>
<circle cx="704.80" cy="39.10" r="2.0" fill="#1c1c1c" stroke="#fff" stroke-width="0.4"/>
<circle cx="692.00" cy="43.40" r="2.0" fill="#1c1c1c" stroke="#fff" stroke-width="0.4"/>
<circle cx="700.10" cy="43.40" r="2.0" fill="#1c1c1c" stroke="#fff" stroke-width="0.4"/>
<circle cx="703.40" cy="43.40" r="2.0" fill="#1c1c1c" stroke="#fff" stroke-width="0.4"/>
<circle cx="692.70" cy="46.70" r="2.0" fill="#1c1c1c" stroke="#fff" stroke-width="0.4"/>
<circle cx="695.40" cy="48.10" r="2.0" fill="#1c1c1c" stroke="#fff" stroke-width="0.4"/>
<circle cx="700.10" cy="45.40" r="2.0" fill="#1c1c1c" stroke="#fff" stroke-width="0.4"/>
<circle cx="705.50" cy="49.80" r="2.0" fill="#1c1c1c" stroke="#fff" stroke-width="0.4"/>
<circle cx="691.30" cy="51.40" r="2.0" fill="#1c1c1c" stroke="#fff" stroke-width="0.4"/>
<circle cx="663.50" cy="78.30" r="2.0" fill="#1c1c1c" stroke="#fff" stroke-width="0.4"/>
<circle cx="679.30" cy="93.90" r="2.0" fill="#1c1c1c" stroke="#fff" stroke-width="0.4"/>
<circle cx="692.70" cy="96.20" r="2.0" fill="#1c1c1c" stroke="#fff" stroke-width="0.4"/>
<line x1="640.00" y1="82.10" x2="747.30" y2="12.70" stroke="#f0707c" stroke-width="0.9" />
<line x1="640.00" y1="51.20" x2="747.30" y2="34.60" stroke="#222" stroke-width="0.9" />
<text x="750.11" y="15.70" font-size="10.4" fill="#ec4a5a" stroke="#ec4a5a" stroke-width="0.15">r=0.11</text>
<text x="750.11" y="38.10" font-size="10.4" fill="#231f20" stroke="#231f20" stroke-width="0.15">r=0.59***</text>
<circle cx="736.40" cy="66.90" r="2.6" fill="#ee3f4f" stroke="none" stroke-width="0"/>
<circle cx="736.40" cy="78.60" r="2.3920000000000003" fill="#1c1c1c" stroke="none" stroke-width="0"/>
<text x="741.27" y="70.50" font-size="10.4" fill="#231f20" stroke="#231f20" stroke-width="0.15">CTR</text>
<text x="740.95" y="82.60" font-size="10.4" fill="#231f20" stroke="#231f20" stroke-width="0.15">PE</text>
<line x1="44.50" y1="157.50" x2="44.50" y2="233.50" stroke="#9a9a9a" stroke-width="1" />
<line x1="40.50" y1="233.00" x2="44.50" y2="233.00" stroke="#9a9a9a" stroke-width="1" />
<text x="33.62" y="236.63" font-size="10.4" fill="#231f20" stroke="#231f20" stroke-width="0.15">0</text>
<line x1="40.50" y1="208.00" x2="44.50" y2="208.00" stroke="#9a9a9a" stroke-width="1" />
<text x="27.84" y="211.63" font-size="10.4" fill="#231f20" stroke="#231f20" stroke-width="0.15">20</text>
<line x1="40.50" y1="182.50" x2="44.50" y2="182.50" stroke="#9a9a9a" stroke-width="1" />
<text x="27.84" y="186.13" font-size="10.4" fill="#231f20" stroke="#231f20" stroke-width="0.15">40</text>
<line x1="40.50" y1="157.50" x2="44.50" y2="157.50" stroke="#9a9a9a" stroke-width="1" />
<text x="27.84" y="161.13" font-size="10.4" fill="#231f20" stroke="#231f20" stroke-width="0.15">60</text>
<line x1="44.00" y1="233.00" x2="139.00" y2="233.00" stroke="#9a9a9a" stroke-width="1" />
<line x1="60.50" y1="233.00" x2="60.50" y2="237.30" stroke="#9a9a9a" stroke-width="1" />
<line x1="91.70" y1="233.00" x2="91.70" y2="237.30" stroke="#9a9a9a" stroke-width="1" />
<line x1="122.60" y1="233.00" x2="122.60" y2="237.30" stroke="#9a9a9a" stroke-width="1" />
<text x="15.28" y="248.60" font-size="10.4" fill="#231f20" stroke="#231f20" stroke-width="0.15">Week</text>
<text x="46.64" y="248.60" font-size="10.4" fill="#231f20" stroke="#231f20" stroke-width="0.15">22-24</text>
<text x="77.98" y="248.60" font-size="10.4" fill="#231f20" stroke="#231f20" stroke-width="0.15">36-38</text>
<text x="115.27" y="248.60" font-size="10.4" fill="#231f20" stroke="#231f20" stroke-width="0.15">5 y</text>
<text transform="translate(22.30,212.60) rotate(-90) scale(0.917,1)" x="-0.92" y="0" font-size="11.17" fill="#231f20" stroke="#231f20" stroke-width="0.15">NCBP1</text>
<line x1="62.40" y1="200.70" x2="62.40" y2="215.40" stroke="#9c9c9c" stroke-width="1" />
<line x1="93.50" y1="194.20" x2="93.50" y2="210.50" stroke="#9c9c9c" stroke-width="1" />
<line x1="124.60" y1="164.70" x2="124.60" y2="200.70" stroke="#9c9c9c" stroke-width="1" />
<polyline points="58.2,210.5 89.3,205 120.4,188.3" fill="none" stroke="#f0707c" stroke-width="0.8"/>
<polyline points="62.4,208.9 93.5,204 124.6,186" fill="none" stroke="#444" stroke-width="0.8"/>
<circle cx="58.20" cy="210.50" r="2.6" fill="#ee3f4f" stroke="none" stroke-width="0"/>
<circle cx="89.30" cy="205.00" r="2.6" fill="#ee3f4f" stroke="none" stroke-width="0"/>
<circle cx="120.40" cy="188.30" r="2.6" fill="#ee3f4f" stroke="none" stroke-width="0"/>
<circle cx="62.40" cy="208.90" r="2.5" fill="#1c1c1c" stroke="none" stroke-width="0"/>
<circle cx="93.50" cy="204.00" r="2.5" fill="#1c1c1c" stroke="none" stroke-width="0"/>
<circle cx="124.60" cy="186.00" r="2.5" fill="#1c1c1c" stroke="none" stroke-width="0"/>
<circle cx="51.75" cy="163.75" r="2.6" fill="#ee3f4f" stroke="none" stroke-width="0"/>
<circle cx="51.75" cy="175.50" r="2.3920000000000003" fill="#1c1c1c" stroke="none" stroke-width="0"/>
<text x="56.67" y="168.00" font-size="10.4" fill="#231f20" stroke="#231f20" stroke-width="0.15">CTR</text>
<text x="56.35" y="180.10" font-size="10.4" fill="#231f20" stroke="#231f20" stroke-width="0.15">PE</text>
<line x1="182.50" y1="163.75" x2="182.50" y2="233.50" stroke="#9a9a9a" stroke-width="1" />
<line x1="178.50" y1="233.00" x2="182.50" y2="233.00" stroke="#9a9a9a" stroke-width="1" />
<text x="171.62" y="236.63" font-size="10.4" fill="#231f20" stroke="#231f20" stroke-width="0.15">0</text>
<line x1="178.50" y1="209.70" x2="182.50" y2="209.70" stroke="#9a9a9a" stroke-width="1" />
<text x="165.84" y="213.33" font-size="10.4" fill="#231f20" stroke="#231f20" stroke-width="0.15">20</text>
<line x1="178.50" y1="187.00" x2="182.50" y2="187.00" stroke="#9a9a9a" stroke-width="1" />
<text x="165.84" y="190.63" font-size="10.4" fill="#231f20" stroke="#231f20" stroke-width="0.15">40</text>
<line x1="178.50" y1="163.75" x2="182.50" y2="163.75" stroke="#9a9a9a" stroke-width="1" />
<text x="165.84" y="167.38" font-size="10.4" fill="#231f20" stroke="#231f20" stroke-width="0.15">60</text>
<line x1="182.00" y1="233.00" x2="276.20" y2="233.00" stroke="#9a9a9a" stroke-width="1" />
<line x1="197.70" y1="233.00" x2="197.70" y2="237.30" stroke="#9a9a9a" stroke-width="1" />
<line x1="228.90" y1="233.00" x2="228.90" y2="237.30" stroke="#9a9a9a" stroke-width="1" />
<line x1="260.00" y1="233.00" x2="260.00" y2="237.30" stroke="#9a9a9a" stroke-width="1" />
<text x="153.43" y="248.60" font-size="10.4" fill="#231f20" stroke="#231f20" stroke-width="0.15">Week</text>
<text x="184.29" y="248.60" font-size="10.4" fill="#231f20" stroke="#231f20" stroke-width="0.15">22-24</text>
<text x="215.58" y="248.60" font-size="10.4" fill="#231f20" stroke="#231f20" stroke-width="0.15">36-38</text>
<text x="253.12" y="248.60" font-size="10.4" fill="#231f20" stroke="#231f20" stroke-width="0.15">5 y</text>
<text transform="translate(160.00,208.80) rotate(-90) scale(0.918,1)" x="-0.88" y="0" font-size="10.74" fill="#231f20" stroke="#231f20" stroke-width="0.15">DCP2</text>
<line x1="258.50" y1="170.20" x2="258.50" y2="181.70" stroke="#f0707c" stroke-width="1" />
<line x1="199.50" y1="195.50" x2="199.50" y2="213.40" stroke="#9c9c9c" stroke-width="1" />
<line x1="231.20" y1="206.20" x2="231.20" y2="219.20" stroke="#9c9c9c" stroke-width="1" />
<line x1="262.20" y1="166.70" x2="262.20" y2="204.20" stroke="#9c9c9c" stroke-width="1" />
<polyline points="195.8,203.5 227.2,211 258.5,175.9" fill="none" stroke="#f0707c" stroke-width="0.8"/>
<polyline points="199.5,206.2 231.2,213.8 262.2,189.5" fill="none" stroke="#444" stroke-width="0.8"/>
<circle cx="195.80" cy="203.50" r="2.6" fill="#ee3f4f" stroke="none" stroke-width="0"/>
<circle cx="227.20" cy="211.00" r="2.6" fill="#ee3f4f" stroke="none" stroke-width="0"/>
<circle cx="258.50" cy="175.90" r="2.6" fill="#ee3f4f" stroke="none" stroke-width="0"/>
<circle cx="199.50" cy="206.20" r="2.5" fill="#1c1c1c" stroke="none" stroke-width="0"/>
<circle cx="231.20" cy="213.80" r="2.5" fill="#1c1c1c" stroke="none" stroke-width="0"/>
<circle cx="262.20" cy="189.50" r="2.5" fill="#1c1c1c" stroke="none" stroke-width="0"/>
<line x1="319.70" y1="157.30" x2="319.70" y2="233.70" stroke="#9a9a9a" stroke-width="1" />
<line x1="315.70" y1="233.20" x2="319.70" y2="233.20" stroke="#9a9a9a" stroke-width="1" />
<text x="308.82" y="236.83" font-size="10.4" fill="#231f20" stroke="#231f20" stroke-width="0.15">0</text>
<line x1="315.70" y1="216.20" x2="319.70" y2="216.20" stroke="#9a9a9a" stroke-width="1" />
<text x="303.04" y="219.83" font-size="10.4" fill="#231f20" stroke="#231f20" stroke-width="0.15">10</text>
<line x1="315.70" y1="199.50" x2="319.70" y2="199.50" stroke="#9a9a9a" stroke-width="1" />
<text x="303.04" y="203.13" font-size="10.4" fill="#231f20" stroke="#231f20" stroke-width="0.15">20</text>
<line x1="315.70" y1="183.20" x2="319.70" y2="183.20" stroke="#9a9a9a" stroke-width="1" />
<text x="303.04" y="186.83" font-size="10.4" fill="#231f20" stroke="#231f20" stroke-width="0.15">30</text>
<line x1="315.70" y1="165.80" x2="319.70" y2="165.80" stroke="#9a9a9a" stroke-width="1" />
<text x="303.04" y="169.43" font-size="10.4" fill="#231f20" stroke="#231f20" stroke-width="0.15">40</text>
<line x1="319.20" y1="233.20" x2="414.30" y2="233.20" stroke="#9a9a9a" stroke-width="1" />
<line x1="335.40" y1="233.20" x2="335.40" y2="237.50" stroke="#9a9a9a" stroke-width="1" />
<line x1="366.50" y1="233.20" x2="366.50" y2="237.50" stroke="#9a9a9a" stroke-width="1" />
<line x1="398.20" y1="233.20" x2="398.20" y2="237.50" stroke="#9a9a9a" stroke-width="1" />
<text x="290.88" y="248.60" font-size="10.4" fill="#231f20" stroke="#231f20" stroke-width="0.15">Week</text>
<text x="322.34" y="248.60" font-size="10.4" fill="#231f20" stroke="#231f20" stroke-width="0.15">22-24</text>
<text x="353.73" y="248.60" font-size="10.4" fill="#231f20" stroke="#231f20" stroke-width="0.15">36-38</text>
<text x="391.17" y="248.60" font-size="10.4" fill="#231f20" stroke="#231f20" stroke-width="0.15">5 y</text>
<text transform="translate(297.20,229.90) rotate(-90) scale(1.037,1)" x="-0.78" y="0" font-size="9.52" fill="#231f20" stroke="#231f20" stroke-width="0.15">MTREX/MTR4</text>
<line x1="396.40" y1="170.20" x2="396.40" y2="180.30" stroke="#f0707c" stroke-width="1" />
<line x1="337.90" y1="201.30" x2="337.90" y2="218.60" stroke="#9c9c9c" stroke-width="1" />
<line x1="368.40" y1="203.30" x2="368.40" y2="217.70" stroke="#9c9c9c" stroke-width="1" />
<line x1="400.10" y1="166.70" x2="400.10" y2="199.60" stroke="#9c9c9c" stroke-width="1" />
<polyline points="333.0,210.5 364.7,207.1 396.4,175.1" fill="none" stroke="#f0707c" stroke-width="0.8"/>
<polyline points="337.9,211.4 368.4,211.1 400.1,186.6" fill="none" stroke="#444" stroke-width="0.8"/>
<circle cx="333.00" cy="210.50" r="2.6" fill="#ee3f4f" stroke="none" stroke-width="0"/>
<circle cx="364.70" cy="207.10" r="2.6" fill="#ee3f4f" stroke="none" stroke-width="0"/>
<circle cx="396.40" cy="175.10" r="2.6" fill="#ee3f4f" stroke="none" stroke-width="0"/>
<circle cx="337.90" cy="211.40" r="2.5" fill="#1c1c1c" stroke="none" stroke-width="0"/>
<circle cx="368.40" cy="211.10" r="2.5" fill="#1c1c1c" stroke="none" stroke-width="0"/>
<circle cx="400.10" cy="186.60" r="2.5" fill="#1c1c1c" stroke="none" stroke-width="0"/>
<line x1="453.50" y1="158.10" x2="453.50" y2="233.50" stroke="#9a9a9a" stroke-width="1" />
<line x1="449.50" y1="233.00" x2="453.50" y2="233.00" stroke="#9a9a9a" stroke-width="1" />
<text x="442.62" y="236.63" font-size="10.4" fill="#231f20" stroke="#231f20" stroke-width="0.15">0</text>
<line x1="449.50" y1="208.10" x2="453.50" y2="208.10" stroke="#9a9a9a" stroke-width="1" />
<text x="436.84" y="211.73" font-size="10.4" fill="#231f20" stroke="#231f20" stroke-width="0.15">20</text>
<line x1="449.50" y1="183.00" x2="453.50" y2="183.00" stroke="#9a9a9a" stroke-width="1" />
<text x="436.84" y="186.63" font-size="10.4" fill="#231f20" stroke="#231f20" stroke-width="0.15">40</text>
<line x1="449.50" y1="158.10" x2="453.50" y2="158.10" stroke="#9a9a9a" stroke-width="1" />
<text x="436.84" y="161.73" font-size="10.4" fill="#231f20" stroke="#231f20" stroke-width="0.15">60</text>
<line x1="453.00" y1="233.00" x2="547.40" y2="233.00" stroke="#9a9a9a" stroke-width="1" />
<line x1="468.50" y1="233.00" x2="468.50" y2="237.30" stroke="#9a9a9a" stroke-width="1" />
<line x1="500.10" y1="233.00" x2="500.10" y2="237.30" stroke="#9a9a9a" stroke-width="1" />
<line x1="531.90" y1="233.00" x2="531.90" y2="237.30" stroke="#9a9a9a" stroke-width="1" />
<text x="424.23" y="248.60" font-size="10.4" fill="#231f20" stroke="#231f20" stroke-width="0.15">Week</text>
<text x="455.44" y="248.60" font-size="10.4" fill="#231f20" stroke="#231f20" stroke-width="0.15">22-24</text>
<text x="486.83" y="248.60" font-size="10.4" fill="#231f20" stroke="#231f20" stroke-width="0.15">36-38</text>
<text x="524.22" y="248.60" font-size="10.4" fill="#231f20" stroke="#231f20" stroke-width="0.15">5 y</text>
<text transform="translate(431.40,214.70) rotate(-90) scale(0.906,1)" x="-0.91" y="0" font-size="11.05" fill="#231f20" stroke="#231f20" stroke-width="0.15">PABPN1</text>
<line x1="529.40" y1="170.20" x2="529.40" y2="181.70" stroke="#f0707c" stroke-width="1" />
<line x1="470.90" y1="195.50" x2="470.90" y2="216.30" stroke="#9c9c9c" stroke-width="1" />
<line x1="502.00" y1="196.10" x2="502.00" y2="214.00" stroke="#9c9c9c" stroke-width="1" />
<line x1="533.40" y1="163.80" x2="533.40" y2="201.90" stroke="#9c9c9c" stroke-width="1" />
<polyline points="466.5,205.6 498.2,200.4 529.4,175.4" fill="none" stroke="#f0707c" stroke-width="0.8"/>
<polyline points="470.9,208.5 502.0,205.6 533.4,186.6" fill="none" stroke="#444" stroke-width="0.8"/>
<circle cx="466.50" cy="205.60" r="2.6" fill="#ee3f4f" stroke="none" stroke-width="0"/>
<circle cx="498.20" cy="200.40" r="2.6" fill="#ee3f4f" stroke="none" stroke-width="0"/>
<circle cx="529.40" cy="175.40" r="2.6" fill="#ee3f4f" stroke="none" stroke-width="0"/>
<circle cx="470.90" cy="208.50" r="2.5" fill="#1c1c1c" stroke="none" stroke-width="0"/>
<circle cx="502.00" cy="205.60" r="2.5" fill="#1c1c1c" stroke="none" stroke-width="0"/>
<circle cx="533.40" cy="186.60" r="2.5" fill="#1c1c1c" stroke="none" stroke-width="0"/>
<line x1="611.00" y1="141.20" x2="611.00" y2="239.70" stroke="#9a9a9a" stroke-width="1" />
<line x1="605.20" y1="239.20" x2="611.00" y2="239.20" stroke="#9a9a9a" stroke-width="1" />
<text x="598.62" y="242.83" font-size="10.4" fill="#231f20" stroke="#231f20" stroke-width="0.15">0</text>
<line x1="605.20" y1="214.70" x2="611.00" y2="214.70" stroke="#9a9a9a" stroke-width="1" />
<text x="598.74" y="218.33" font-size="10.4" fill="#231f20" stroke="#231f20" stroke-width="0.15">2</text>
<line x1="605.20" y1="190.20" x2="611.00" y2="190.20" stroke="#9a9a9a" stroke-width="1" />
<text x="598.52" y="193.83" font-size="10.4" fill="#231f20" stroke="#231f20" stroke-width="0.15">4</text>
<line x1="605.20" y1="165.80" x2="611.00" y2="165.80" stroke="#9a9a9a" stroke-width="1" />
<text x="598.67" y="169.43" font-size="10.4" fill="#231f20" stroke="#231f20" stroke-width="0.15">6</text>
<line x1="605.20" y1="141.20" x2="611.00" y2="141.20" stroke="#9a9a9a" stroke-width="1" />
<text x="598.67" y="144.83" font-size="10.4" fill="#231f20" stroke="#231f20" stroke-width="0.15">8</text>
<line x1="610.50" y1="239.10" x2="732.60" y2="239.10" stroke="#9a9a9a" stroke-width="1" />
<line x1="640.20" y1="239.10" x2="640.20" y2="244.00" stroke="#9a9a9a" stroke-width="1" />
<line x1="700.30" y1="239.10" x2="700.30" y2="244.00" stroke="#9a9a9a" stroke-width="1" />
<text x="611.69" y="256.60" font-size="10.1" fill="#231f20" stroke="#231f20" stroke-width="0.15">22-24 weeks</text>
<text x="680.60" y="256.60" font-size="10.1" fill="#231f20" stroke="#231f20" stroke-width="0.15">5 years FU</text>
<text transform="translate(592.50,229.23) rotate(-90)" font-size="10.4" fill="#231f20" stroke="#231f20" stroke-width="0.15">Telomere length</text>
<text x="638.28" y="152.30" font-size="8.0" fill="#231f20" stroke="#231f20" stroke-width="0.15">p=0.61</text>
<text x="695.97" y="163.80" font-size="8.2" fill="#231f20" stroke="#231f20" stroke-width="0.15">p=0.30</text>
<circle cx="629.76" cy="145.02" r="1.15" fill="#ee3f4f" stroke="#fff" stroke-width="0.3"/>
<circle cx="628.41" cy="146.94" r="1.15" fill="#ee3f4f" stroke="#fff" stroke-width="0.3"/>
<circle cx="631.01" cy="146.98" r="1.15" fill="#ee3f4f" stroke="#fff" stroke-width="0.3"/>
<circle cx="629.29" cy="148.90" r="1.15" fill="#ee3f4f" stroke="#fff" stroke-width="0.3"/>
<circle cx="628.71" cy="151.54" r="1.15" fill="#ee3f4f" stroke="#fff" stroke-width="0.3"/>
<circle cx="631.48" cy="151.81" r="1.15" fill="#ee3f4f" stroke="#fff" stroke-width="0.3"/>
<circle cx="627.22" cy="153.26" r="1.15" fill="#ee3f4f" stroke="#fff" stroke-width="0.3"/>
<circle cx="629.73" cy="153.16" r="1.15" fill="#ee3f4f" stroke="#fff" stroke-width="0.3"/>
<circle cx="632.04" cy="153.13" r="1.15" fill="#ee3f4f" stroke="#fff" stroke-width="0.3"/>
<circle cx="625.74" cy="156.19" r="1.15" fill="#ee3f4f" stroke="#fff" stroke-width="0.3"/>
<circle cx="628.54" cy="155.85" r="1.15" fill="#ee3f4f" stroke="#fff" stroke-width="0.3"/>
<circle cx="630.96" cy="155.63" r="1.15" fill="#ee3f4f" stroke="#fff" stroke-width="0.3"/>
<circle cx="634.10" cy="156.19" r="1.15" fill="#ee3f4f" stroke="#fff" stroke-width="0.3"/>
<circle cx="626.92" cy="157.83" r="1.15" fill="#ee3f4f" stroke="#fff" stroke-width="0.3"/>
<circle cx="629.27" cy="158.37" r="1.15" fill="#ee3f4f" stroke="#fff" stroke-width="0.3"/>
<circle cx="632.65" cy="157.99" r="1.15" fill="#ee3f4f" stroke="#fff" stroke-width="0.3"/>
<circle cx="626.15" cy="159.85" r="1.15" fill="#ee3f4f" stroke="#fff" stroke-width="0.3"/>
<circle cx="628.81" cy="160.32" r="1.15" fill="#ee3f4f" stroke="#fff" stroke-width="0.3"/>
<circle cx="630.90" cy="159.92" r="1.15" fill="#ee3f4f" stroke="#fff" stroke-width="0.3"/>
<circle cx="633.88" cy="160.12" r="1.15" fill="#ee3f4f" stroke="#fff" stroke-width="0.3"/>
<circle cx="624.33" cy="163.06" r="1.15" fill="#ee3f4f" stroke="#fff" stroke-width="0.3"/>
<circle cx="626.72" cy="162.35" r="1.15" fill="#ee3f4f" stroke="#fff" stroke-width="0.3"/>
<circle cx="629.26" cy="162.90" r="1.15" fill="#ee3f4f" stroke="#fff" stroke-width="0.3"/>
<circle cx="632.36" cy="162.55" r="1.15" fill="#ee3f4f" stroke="#fff" stroke-width="0.3"/>
<circle cx="635.13" cy="162.23" r="1.15" fill="#ee3f4f" stroke="#fff" stroke-width="0.3"/>
<circle cx="625.42" cy="164.77" r="1.15" fill="#ee3f4f" stroke="#fff" stroke-width="0.3"/>
<circle cx="628.17" cy="165.32" r="1.15" fill="#ee3f4f" stroke="#fff" stroke-width="0.3"/>
<circle cx="630.80" cy="165.23" r="1.15" fill="#ee3f4f" stroke="#fff" stroke-width="0.3"/>
<circle cx="633.49" cy="165.20" r="1.15" fill="#ee3f4f" stroke="#fff" stroke-width="0.3"/>
<circle cx="624.10" cy="167.59" r="1.15" fill="#ee3f4f" stroke="#fff" stroke-width="0.3"/>
<circle cx="626.86" cy="167.37" r="1.15" fill="#ee3f4f" stroke="#fff" stroke-width="0.3"/>
<circle cx="629.50" cy="166.67" r="1.15" fill="#ee3f4f" stroke="#fff" stroke-width="0.3"/>
<circle cx="632.38" cy="166.84" r="1.15" fill="#ee3f4f" stroke="#fff" stroke-width="0.3"/>
<circle cx="634.77" cy="167.05" r="1.15" fill="#ee3f4f" stroke="#fff" stroke-width="0.3"/>
<circle cx="623.18" cy="169.42" r="1.15" fill="#ee3f4f" stroke="#fff" stroke-width="0.3"/>
<circle cx="625.48" cy="169.00" r="1.15" fill="#ee3f4f" stroke="#fff" stroke-width="0.3"/>
<circle cx="628.72" cy="169.10" r="1.15" fill="#ee3f4f" stroke="#fff" stroke-width="0.3"/>
<circle cx="631.24" cy="169.79" r="1.15" fill="#ee3f4f" stroke="#fff" stroke-width="0.3"/>
<circle cx="634.05" cy="169.73" r="1.15" fill="#ee3f4f" stroke="#fff" stroke-width="0.3"/>
<circle cx="636.12" cy="168.95" r="1.15" fill="#ee3f4f" stroke="#fff" stroke-width="0.3"/>
<circle cx="622.36" cy="171.34" r="1.15" fill="#ee3f4f" stroke="#fff" stroke-width="0.3"/>
<circle cx="624.26" cy="171.92" r="1.15" fill="#ee3f4f" stroke="#fff" stroke-width="0.3"/>
<circle cx="626.89" cy="171.28" r="1.15" fill="#ee3f4f" stroke="#fff" stroke-width="0.3"/>
<circle cx="629.27" cy="171.33" r="1.15" fill="#ee3f4f" stroke="#fff" stroke-width="0.3"/>
<circle cx="632.65" cy="171.71" r="1.15" fill="#ee3f4f" stroke="#fff" stroke-width="0.3"/>
<circle cx="635.32" cy="171.30" r="1.15" fill="#ee3f4f" stroke="#fff" stroke-width="0.3"/>
<circle cx="637.27" cy="171.55" r="1.15" fill="#ee3f4f" stroke="#fff" stroke-width="0.3"/>
<circle cx="622.88" cy="173.72" r="1.15" fill="#ee3f4f" stroke="#fff" stroke-width="0.3"/>
<circle cx="625.43" cy="173.71" r="1.15" fill="#ee3f4f" stroke="#fff" stroke-width="0.3"/>
<circle cx="628.88" cy="174.01" r="1.15" fill="#ee3f4f" stroke="#fff" stroke-width="0.3"/>
<circle cx="631.08" cy="173.49" r="1.15" fill="#ee3f4f" stroke="#fff" stroke-width="0.3"/>
<circle cx="633.12" cy="174.26" r="1.15" fill="#ee3f4f" stroke="#fff" stroke-width="0.3"/>
<circle cx="636.66" cy="173.37" r="1.15" fill="#ee3f4f" stroke="#fff" stroke-width="0.3"/>
<circle cx="621.88" cy="176.33" r="1.15" fill="#ee3f4f" stroke="#fff" stroke-width="0.3"/>
<circle cx="625.00" cy="175.68" r="1.15" fill="#ee3f4f" stroke="#fff" stroke-width="0.3"/>
<circle cx="627.34" cy="176.50" r="1.15" fill="#ee3f4f" stroke="#fff" stroke-width="0.3"/>
<circle cx="629.90" cy="176.39" r="1.15" fill="#ee3f4f" stroke="#fff" stroke-width="0.3"/>
<circle cx="632.15" cy="176.29" r="1.15" fill="#ee3f4f" stroke="#fff" stroke-width="0.3"/>
<circle cx="635.27" cy="176.02" r="1.15" fill="#ee3f4f" stroke="#fff" stroke-width="0.3"/>
<circle cx="637.86" cy="176.17" r="1.15" fill="#ee3f4f" stroke="#fff" stroke-width="0.3"/>
<circle cx="623.08" cy="178.43" r="1.15" fill="#ee3f4f" stroke="#fff" stroke-width="0.3"/>
<circle cx="625.38" cy="178.49" r="1.15" fill="#ee3f4f" stroke="#fff" stroke-width="0.3"/>
<circle cx="628.78" cy="178.58" r="1.15" fill="#ee3f4f" stroke="#fff" stroke-width="0.3"/>
<circle cx="631.24" cy="178.43" r="1.15" fill="#ee3f4f" stroke="#fff" stroke-width="0.3"/>
<circle cx="633.94" cy="177.93" r="1.15" fill="#ee3f4f" stroke="#fff" stroke-width="0.3"/>
<circle cx="635.73" cy="178.45" r="1.15" fill="#ee3f4f" stroke="#fff" stroke-width="0.3"/>
<circle cx="621.63" cy="180.80" r="1.15" fill="#ee3f4f" stroke="#fff" stroke-width="0.3"/>
<circle cx="624.61" cy="181.02" r="1.15" fill="#ee3f4f" stroke="#fff" stroke-width="0.3"/>
<circle cx="626.61" cy="180.40" r="1.15" fill="#ee3f4f" stroke="#fff" stroke-width="0.3"/>
<circle cx="629.40" cy="180.27" r="1.15" fill="#ee3f4f" stroke="#fff" stroke-width="0.3"/>
<circle cx="632.46" cy="180.54" r="1.15" fill="#ee3f4f" stroke="#fff" stroke-width="0.3"/>
<circle cx="634.73" cy="180.77" r="1.15" fill="#ee3f4f" stroke="#fff" stroke-width="0.3"/>
<circle cx="637.43" cy="180.91" r="1.15" fill="#ee3f4f" stroke="#fff" stroke-width="0.3"/>
<circle cx="623.58" cy="182.73" r="1.15" fill="#ee3f4f" stroke="#fff" stroke-width="0.3"/>
<circle cx="625.62" cy="182.49" r="1.15" fill="#ee3f4f" stroke="#fff" stroke-width="0.3"/>
<circle cx="628.74" cy="183.20" r="1.15" fill="#ee3f4f" stroke="#fff" stroke-width="0.3"/>
<circle cx="631.45" cy="182.63" r="1.15" fill="#ee3f4f" stroke="#fff" stroke-width="0.3"/>
<circle cx="633.55" cy="182.63" r="1.15" fill="#ee3f4f" stroke="#fff" stroke-width="0.3"/>
<circle cx="636.11" cy="182.98" r="1.15" fill="#ee3f4f" stroke="#fff" stroke-width="0.3"/>
<circle cx="624.32" cy="185.44" r="1.15" fill="#ee3f4f" stroke="#fff" stroke-width="0.3"/>
<circle cx="627.05" cy="184.67" r="1.15" fill="#ee3f4f" stroke="#fff" stroke-width="0.3"/>
<circle cx="630.07" cy="184.64" r="1.15" fill="#ee3f4f" stroke="#fff" stroke-width="0.3"/>
<circle cx="632.37" cy="184.91" r="1.15" fill="#ee3f4f" stroke="#fff" stroke-width="0.3"/>
<circle cx="634.42" cy="184.74" r="1.15" fill="#ee3f4f" stroke="#fff" stroke-width="0.3"/>
<circle cx="622.72" cy="187.68" r="1.15" fill="#ee3f4f" stroke="#fff" stroke-width="0.3"/>
<circle cx="625.44" cy="186.90" r="1.15" fill="#ee3f4f" stroke="#fff" stroke-width="0.3"/>
<circle cx="628.35" cy="187.48" r="1.15" fill="#ee3f4f" stroke="#fff" stroke-width="0.3"/>
<circle cx="631.31" cy="187.81" r="1.15" fill="#ee3f4f" stroke="#fff" stroke-width="0.3"/>
<circle cx="633.30" cy="187.33" r="1.15" fill="#ee3f4f" stroke="#fff" stroke-width="0.3"/>
<circle cx="635.71" cy="187.32" r="1.15" fill="#ee3f4f" stroke="#fff" stroke-width="0.3"/>
<circle cx="624.18" cy="189.37" r="1.15" fill="#ee3f4f" stroke="#fff" stroke-width="0.3"/>
<circle cx="627.30" cy="189.62" r="1.15" fill="#ee3f4f" stroke="#fff" stroke-width="0.3"/>
<circle cx="629.96" cy="189.49" r="1.15" fill="#ee3f4f" stroke="#fff" stroke-width="0.3"/>
<circle cx="632.71" cy="189.19" r="1.15" fill="#ee3f4f" stroke="#fff" stroke-width="0.3"/>
<circle cx="635.12" cy="189.23" r="1.15" fill="#ee3f4f" stroke="#fff" stroke-width="0.3"/>
<circle cx="625.93" cy="192.26" r="1.15" fill="#ee3f4f" stroke="#fff" stroke-width="0.3"/>
<circle cx="628.47" cy="192.23" r="1.15" fill="#ee3f4f" stroke="#fff" stroke-width="0.3"/>
<circle cx="631.44" cy="191.81" r="1.15" fill="#ee3f4f" stroke="#fff" stroke-width="0.3"/>
<circle cx="633.30" cy="192.07" r="1.15" fill="#ee3f4f" stroke="#fff" stroke-width="0.3"/>
<circle cx="627.24" cy="194.32" r="1.15" fill="#ee3f4f" stroke="#fff" stroke-width="0.3"/>
<circle cx="630.10" cy="194.58" r="1.15" fill="#ee3f4f" stroke="#fff" stroke-width="0.3"/>
<circle cx="632.34" cy="194.39" r="1.15" fill="#ee3f4f" stroke="#fff" stroke-width="0.3"/>
<circle cx="626.21" cy="196.71" r="1.15" fill="#ee3f4f" stroke="#fff" stroke-width="0.3"/>
<circle cx="627.98" cy="196.29" r="1.15" fill="#ee3f4f" stroke="#fff" stroke-width="0.3"/>
<circle cx="631.27" cy="196.34" r="1.15" fill="#ee3f4f" stroke="#fff" stroke-width="0.3"/>
<circle cx="633.91" cy="195.91" r="1.15" fill="#ee3f4f" stroke="#fff" stroke-width="0.3"/>
<circle cx="626.77" cy="198.44" r="1.15" fill="#ee3f4f" stroke="#fff" stroke-width="0.3"/>
<circle cx="629.34" cy="198.25" r="1.15" fill="#ee3f4f" stroke="#fff" stroke-width="0.3"/>
<circle cx="632.52" cy="198.94" r="1.15" fill="#ee3f4f" stroke="#fff" stroke-width="0.3"/>
<circle cx="628.85" cy="200.84" r="1.15" fill="#ee3f4f" stroke="#fff" stroke-width="0.3"/>
<circle cx="630.59" cy="200.57" r="1.15" fill="#ee3f4f" stroke="#fff" stroke-width="0.3"/>
<circle cx="626.89" cy="203.33" r="1.15" fill="#ee3f4f" stroke="#fff" stroke-width="0.3"/>
<circle cx="629.72" cy="203.44" r="1.15" fill="#ee3f4f" stroke="#fff" stroke-width="0.3"/>
<circle cx="632.11" cy="202.98" r="1.15" fill="#ee3f4f" stroke="#fff" stroke-width="0.3"/>
<circle cx="628.80" cy="205.06" r="1.15" fill="#ee3f4f" stroke="#fff" stroke-width="0.3"/>
<circle cx="631.47" cy="205.37" r="1.15" fill="#ee3f4f" stroke="#fff" stroke-width="0.3"/>
<circle cx="629.40" cy="207.64" r="1.15" fill="#ee3f4f" stroke="#fff" stroke-width="0.3"/>
<circle cx="628.51" cy="209.38" r="1.15" fill="#ee3f4f" stroke="#fff" stroke-width="0.3"/>
<circle cx="631.02" cy="209.75" r="1.15" fill="#ee3f4f" stroke="#fff" stroke-width="0.3"/>
<circle cx="629.76" cy="212.09" r="1.15" fill="#ee3f4f" stroke="#fff" stroke-width="0.3"/>
<circle cx="629.89" cy="214.35" r="1.15" fill="#ee3f4f" stroke="#fff" stroke-width="0.3"/>
<line x1="620.60" y1="177.20" x2="639.70" y2="177.20" stroke="#333" stroke-width="1" />
<circle cx="652.80" cy="159.00" r="1.2" fill="#1c1c1c" stroke="#fff" stroke-width="0.4"/>
<circle cx="654.80" cy="161.50" r="1.2" fill="#1c1c1c" stroke="#fff" stroke-width="0.4"/>
<circle cx="652.80" cy="164.20" r="1.2" fill="#1c1c1c" stroke="#fff" stroke-width="0.4"/>
<circle cx="656.80" cy="165.50" r="1.2" fill="#1c1c1c" stroke="#fff" stroke-width="0.4"/>
<circle cx="659.50" cy="164.70" r="1.2" fill="#1c1c1c" stroke="#fff" stroke-width="0.4"/>
<circle cx="649.40" cy="166.80" r="1.2" fill="#1c1c1c" stroke="#fff" stroke-width="0.4"/>
<circle cx="650.80" cy="167.80" r="1.2" fill="#1c1c1c" stroke="#fff" stroke-width="0.4"/>
<circle cx="652.80" cy="168.50" r="1.2" fill="#1c1c1c" stroke="#fff" stroke-width="0.4"/>
<circle cx="655.50" cy="167.80" r="1.2" fill="#1c1c1c" stroke="#fff" stroke-width="0.4"/>
<circle cx="654.10" cy="171.20" r="1.2" fill="#1c1c1c" stroke="#fff" stroke-width="0.4"/>
<circle cx="653.20" cy="173.60" r="1.2" fill="#1c1c1c" stroke="#fff" stroke-width="0.4"/>
<circle cx="655.50" cy="173.20" r="1.2" fill="#1c1c1c" stroke="#fff" stroke-width="0.4"/>
<circle cx="657.50" cy="173.60" r="1.2" fill="#1c1c1c" stroke="#fff" stroke-width="0.4"/>
<circle cx="658.80" cy="173.80" r="1.2" fill="#1c1c1c" stroke="#fff" stroke-width="0.4"/>
<circle cx="648.10" cy="175.20" r="1.2" fill="#1c1c1c" stroke="#fff" stroke-width="0.4"/>
<circle cx="650.10" cy="176.50" r="1.2" fill="#1c1c1c" stroke="#fff" stroke-width="0.4"/>
<circle cx="651.80" cy="177.90" r="1.2" fill="#1c1c1c" stroke="#fff" stroke-width="0.4"/>
<circle cx="656.20" cy="178.60" r="1.2" fill="#1c1c1c" stroke="#fff" stroke-width="0.4"/>
<circle cx="653.50" cy="180.80" r="1.2" fill="#1c1c1c" stroke="#fff" stroke-width="0.4"/>
<circle cx="657.50" cy="179.90" r="1.2" fill="#1c1c1c" stroke="#fff" stroke-width="0.4"/>
<circle cx="654.80" cy="182.60" r="1.2" fill="#1c1c1c" stroke="#fff" stroke-width="0.4"/>
<circle cx="658.80" cy="181.90" r="1.2" fill="#1c1c1c" stroke="#fff" stroke-width="0.4"/>
<circle cx="660.90" cy="183.30" r="1.2" fill="#1c1c1c" stroke="#fff" stroke-width="0.4"/>
<circle cx="646.10" cy="184.30" r="1.2" fill="#1c1c1c" stroke="#fff" stroke-width="0.4"/>
<circle cx="648.10" cy="183.90" r="1.2" fill="#1c1c1c" stroke="#fff" stroke-width="0.4"/>
<circle cx="650.10" cy="183.30" r="1.2" fill="#1c1c1c" stroke="#fff" stroke-width="0.4"/>
<circle cx="652.70" cy="194.00" r="1.2" fill="#1c1c1c" stroke="#fff" stroke-width="0.4"/>
<circle cx="655.10" cy="197.10" r="1.2" fill="#1c1c1c" stroke="#fff" stroke-width="0.4"/>
<circle cx="653.90" cy="204.70" r="1.2" fill="#1c1c1c" stroke="#fff" stroke-width="0.4"/>
<line x1="644.00" y1="176.60" x2="663.10" y2="176.60" stroke="#aaa" stroke-width="1" />
<circle cx="689.76" cy="167.07" r="1.15" fill="#ee3f4f" stroke="#fff" stroke-width="0.3"/>
<circle cx="687.81" cy="169.02" r="1.15" fill="#ee3f4f" stroke="#fff" stroke-width="0.3"/>
<circle cx="691.21" cy="169.34" r="1.15" fill="#ee3f4f" stroke="#fff" stroke-width="0.3"/>
<circle cx="687.06" cy="171.56" r="1.15" fill="#ee3f4f" stroke="#fff" stroke-width="0.3"/>
<circle cx="689.54" cy="171.06" r="1.15" fill="#ee3f4f" stroke="#fff" stroke-width="0.3"/>
<circle cx="691.76" cy="171.72" r="1.15" fill="#ee3f4f" stroke="#fff" stroke-width="0.3"/>
<circle cx="685.89" cy="173.49" r="1.15" fill="#ee3f4f" stroke="#fff" stroke-width="0.3"/>
<circle cx="688.64" cy="173.17" r="1.15" fill="#ee3f4f" stroke="#fff" stroke-width="0.3"/>
<circle cx="691.32" cy="173.66" r="1.15" fill="#ee3f4f" stroke="#fff" stroke-width="0.3"/>
<circle cx="693.99" cy="174.10" r="1.15" fill="#ee3f4f" stroke="#fff" stroke-width="0.3"/>
<circle cx="684.32" cy="175.54" r="1.15" fill="#ee3f4f" stroke="#fff" stroke-width="0.3"/>
<circle cx="687.12" cy="175.56" r="1.15" fill="#ee3f4f" stroke="#fff" stroke-width="0.3"/>
<circle cx="689.15" cy="175.57" r="1.15" fill="#ee3f4f" stroke="#fff" stroke-width="0.3"/>
<circle cx="692.10" cy="175.82" r="1.15" fill="#ee3f4f" stroke="#fff" stroke-width="0.3"/>
<circle cx="694.78" cy="175.78" r="1.15" fill="#ee3f4f" stroke="#fff" stroke-width="0.3"/>
<circle cx="683.33" cy="178.62" r="1.15" fill="#ee3f4f" stroke="#fff" stroke-width="0.3"/>
<circle cx="685.86" cy="178.01" r="1.15" fill="#ee3f4f" stroke="#fff" stroke-width="0.3"/>
<circle cx="688.49" cy="178.32" r="1.15" fill="#ee3f4f" stroke="#fff" stroke-width="0.3"/>
<circle cx="690.63" cy="178.01" r="1.15" fill="#ee3f4f" stroke="#fff" stroke-width="0.3"/>
<circle cx="693.81" cy="178.15" r="1.15" fill="#ee3f4f" stroke="#fff" stroke-width="0.3"/>
<circle cx="696.42" cy="178.08" r="1.15" fill="#ee3f4f" stroke="#fff" stroke-width="0.3"/>
<circle cx="684.12" cy="180.33" r="1.15" fill="#ee3f4f" stroke="#fff" stroke-width="0.3"/>
<circle cx="687.27" cy="180.00" r="1.15" fill="#ee3f4f" stroke="#fff" stroke-width="0.3"/>
<circle cx="689.28" cy="180.60" r="1.15" fill="#ee3f4f" stroke="#fff" stroke-width="0.3"/>
<circle cx="691.98" cy="180.24" r="1.15" fill="#ee3f4f" stroke="#fff" stroke-width="0.3"/>
<circle cx="694.35" cy="180.36" r="1.15" fill="#ee3f4f" stroke="#fff" stroke-width="0.3"/>
<circle cx="682.88" cy="182.63" r="1.15" fill="#ee3f4f" stroke="#fff" stroke-width="0.3"/>
<circle cx="685.68" cy="183.11" r="1.15" fill="#ee3f4f" stroke="#fff" stroke-width="0.3"/>
<circle cx="688.72" cy="182.51" r="1.15" fill="#ee3f4f" stroke="#fff" stroke-width="0.3"/>
<circle cx="691.15" cy="183.06" r="1.15" fill="#ee3f4f" stroke="#fff" stroke-width="0.3"/>
<circle cx="693.27" cy="182.92" r="1.15" fill="#ee3f4f" stroke="#fff" stroke-width="0.3"/>
<circle cx="695.84" cy="182.16" r="1.15" fill="#ee3f4f" stroke="#fff" stroke-width="0.3"/>
<circle cx="681.92" cy="185.38" r="1.15" fill="#ee3f4f" stroke="#fff" stroke-width="0.3"/>
<circle cx="684.40" cy="184.42" r="1.15" fill="#ee3f4f" stroke="#fff" stroke-width="0.3"/>
<circle cx="687.29" cy="185.23" r="1.15" fill="#ee3f4f" stroke="#fff" stroke-width="0.3"/>
<circle cx="689.33" cy="184.93" r="1.15" fill="#ee3f4f" stroke="#fff" stroke-width="0.3"/>
<circle cx="692.33" cy="184.66" r="1.15" fill="#ee3f4f" stroke="#fff" stroke-width="0.3"/>
<circle cx="695.19" cy="184.56" r="1.15" fill="#ee3f4f" stroke="#fff" stroke-width="0.3"/>
<circle cx="697.77" cy="184.68" r="1.15" fill="#ee3f4f" stroke="#fff" stroke-width="0.3"/>
<circle cx="683.12" cy="187.35" r="1.15" fill="#ee3f4f" stroke="#fff" stroke-width="0.3"/>
<circle cx="685.41" cy="186.94" r="1.15" fill="#ee3f4f" stroke="#fff" stroke-width="0.3"/>
<circle cx="688.48" cy="187.34" r="1.15" fill="#ee3f4f" stroke="#fff" stroke-width="0.3"/>
<circle cx="691.29" cy="187.07" r="1.15" fill="#ee3f4f" stroke="#fff" stroke-width="0.3"/>
<circle cx="693.44" cy="187.63" r="1.15" fill="#ee3f4f" stroke="#fff" stroke-width="0.3"/>
<circle cx="696.22" cy="187.57" r="1.15" fill="#ee3f4f" stroke="#fff" stroke-width="0.3"/>
<circle cx="684.66" cy="189.32" r="1.15" fill="#ee3f4f" stroke="#fff" stroke-width="0.3"/>
<circle cx="687.40" cy="189.69" r="1.15" fill="#ee3f4f" stroke="#fff" stroke-width="0.3"/>
<circle cx="689.45" cy="189.27" r="1.15" fill="#ee3f4f" stroke="#fff" stroke-width="0.3"/>
<circle cx="692.26" cy="188.92" r="1.15" fill="#ee3f4f" stroke="#fff" stroke-width="0.3"/>
<circle cx="695.20" cy="189.70" r="1.15" fill="#ee3f4f" stroke="#fff" stroke-width="0.3"/>
<circle cx="686.11" cy="191.68" r="1.15" fill="#ee3f4f" stroke="#fff" stroke-width="0.3"/>
<circle cx="688.18" cy="191.25" r="1.15" fill="#ee3f4f" stroke="#fff" stroke-width="0.3"/>
<circle cx="690.71" cy="192.08" r="1.15" fill="#ee3f4f" stroke="#fff" stroke-width="0.3"/>
<circle cx="693.54" cy="191.77" r="1.15" fill="#ee3f4f" stroke="#fff" stroke-width="0.3"/>
<circle cx="687.03" cy="194.10" r="1.15" fill="#ee3f4f" stroke="#fff" stroke-width="0.3"/>
<circle cx="689.35" cy="193.81" r="1.15" fill="#ee3f4f" stroke="#fff" stroke-width="0.3"/>
<circle cx="692.39" cy="193.54" r="1.15" fill="#ee3f4f" stroke="#fff" stroke-width="0.3"/>
<circle cx="688.11" cy="196.35" r="1.15" fill="#ee3f4f" stroke="#fff" stroke-width="0.3"/>
<circle cx="691.06" cy="196.58" r="1.15" fill="#ee3f4f" stroke="#fff" stroke-width="0.3"/>
<circle cx="689.13" cy="198.39" r="1.15" fill="#ee3f4f" stroke="#fff" stroke-width="0.3"/>
<line x1="680.80" y1="183.30" x2="699.00" y2="183.30" stroke="#333" stroke-width="1" />
<circle cx="713.80" cy="170.20" r="1.2" fill="#1c1c1c" stroke="#fff" stroke-width="0.4"/>
<circle cx="711.50" cy="179.40" r="1.2" fill="#1c1c1c" stroke="#fff" stroke-width="0.4"/>
<circle cx="716.10" cy="180.20" r="1.2" fill="#1c1c1c" stroke="#fff" stroke-width="0.4"/>
<circle cx="718.20" cy="184.80" r="1.2" fill="#1c1c1c" stroke="#fff" stroke-width="0.4"/>
<circle cx="709.20" cy="186.30" r="1.2" fill="#1c1c1c" stroke="#fff" stroke-width="0.4"/>
<circle cx="713.80" cy="186.00" r="1.2" fill="#1c1c1c" stroke="#fff" stroke-width="0.4"/>
<circle cx="706.90" cy="187.80" r="1.2" fill="#1c1c1c" stroke="#fff" stroke-width="0.4"/>
<circle cx="711.30" cy="188.60" r="1.2" fill="#1c1c1c" stroke="#fff" stroke-width="0.4"/>
<circle cx="716.10" cy="189.80" r="1.2" fill="#1c1c1c" stroke="#fff" stroke-width="0.4"/>
<circle cx="720.70" cy="191.30" r="1.2" fill="#1c1c1c" stroke="#fff" stroke-width="0.4"/>
<line x1="704.00" y1="184.00" x2="723.60" y2="184.00" stroke="#333" stroke-width="1" />
<circle cx="739.10" cy="163.10" r="2.7" fill="#ee3f4f" stroke="none" stroke-width="0"/>
<circle cx="739.10" cy="174.60" r="2.3" fill="#1c1c1c" stroke="none" stroke-width="0"/>
<text x="747.07" y="166.20" font-size="10.4" fill="#231f20" stroke="#231f20" stroke-width="0.15">CTR</text>
<text x="746.75" y="178.50" font-size="10.4" fill="#231f20" stroke="#231f20" stroke-width="0.15">PE</text>
</svg></body></html>
